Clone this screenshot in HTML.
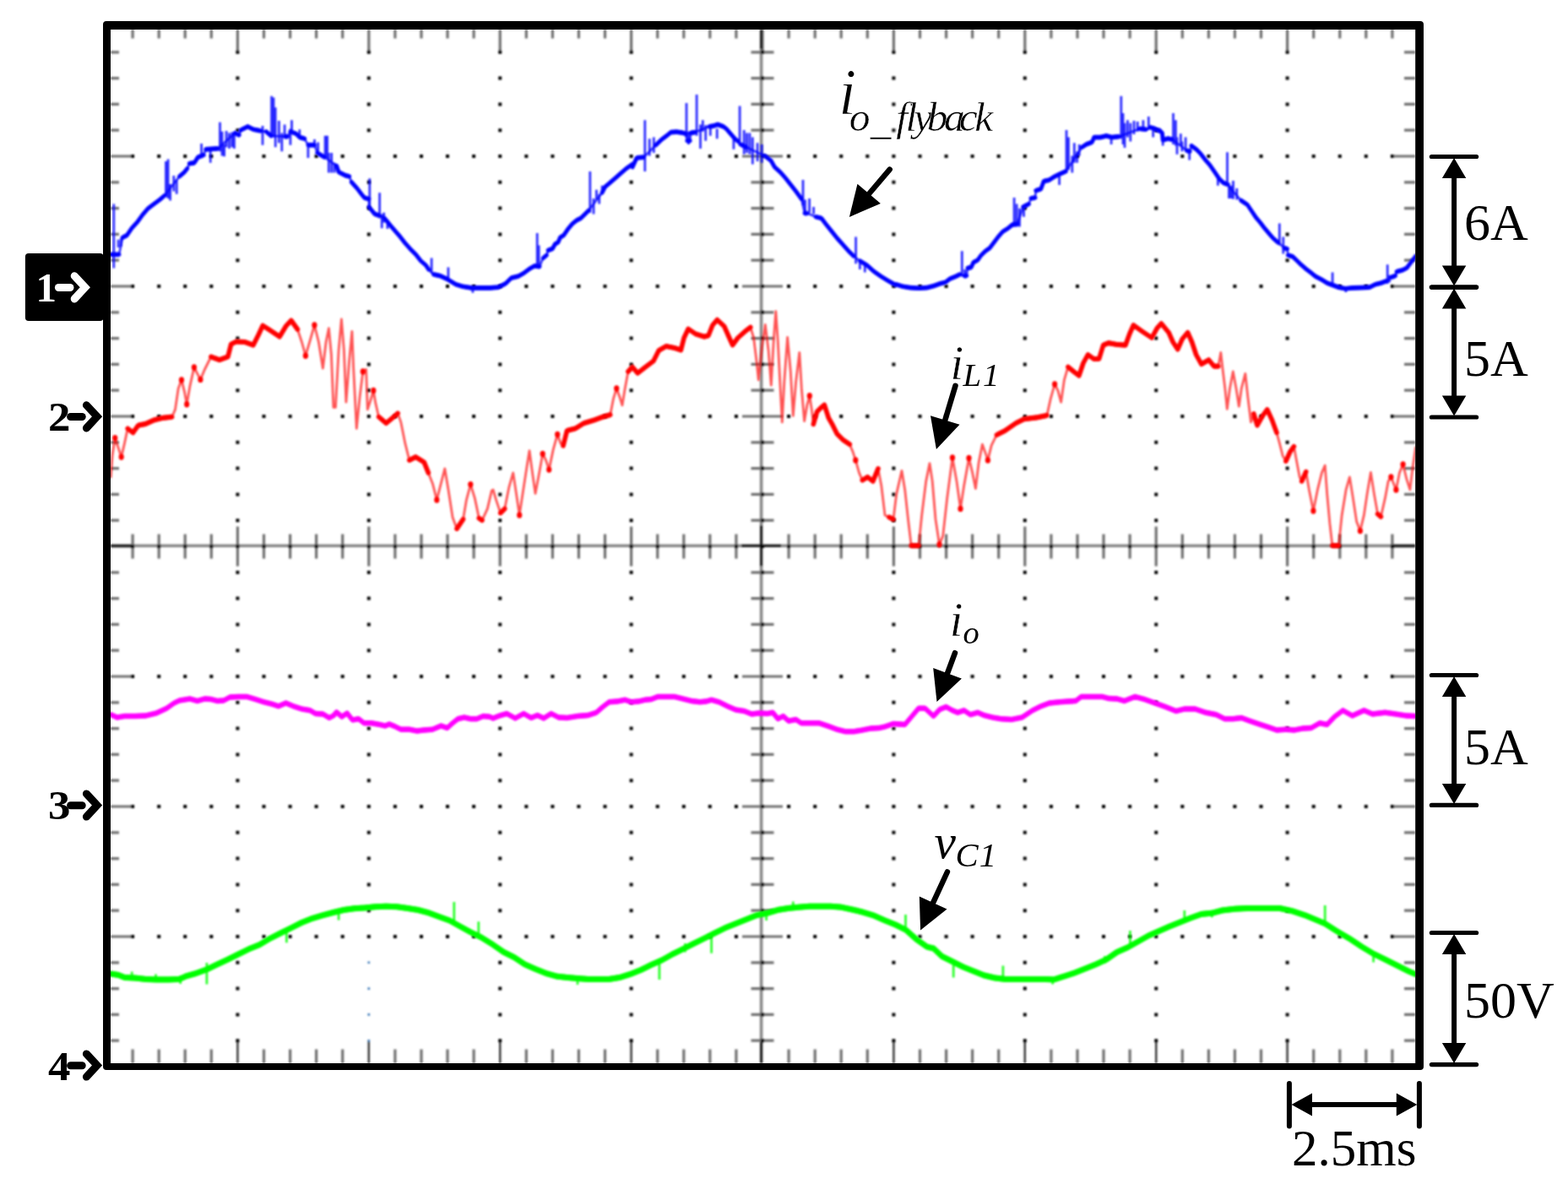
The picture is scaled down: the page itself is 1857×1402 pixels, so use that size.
<!DOCTYPE html>
<html lang="en"><head><meta charset="utf-8"><title>Oscilloscope waveforms</title>
<style>html,body{margin:0;padding:0;background:#fff;overflow:hidden}svg{display:block}text{font-family:"Liberation Serif",serif;fill:#000}.it{font-style:italic}.b{font-weight:bold}.th{stroke:#fff;stroke-width:0.5px;stroke-linejoin:round}.t0{stroke:none}.t7{stroke:#fff;stroke-width:0.45px}.m1{stroke-width:1.2px}</style></head><body>
<svg width="1857" height="1402" viewBox="0 0 1857 1402">
<defs><filter id="bl" filterUnits="userSpaceOnUse" x="0" y="0" width="1857" height="1402"><feGaussianBlur stdDeviation="1"/></filter><filter id="bw" filterUnits="userSpaceOnUse" x="0" y="0" width="1857" height="1402"><feGaussianBlur stdDeviation="1"/></filter><clipPath id="cp"><rect x="131" y="35" width="1545.2" height="1224"/></clipPath></defs>
<rect width="1857" height="1402" fill="#fff"/>
<g filter="url(#bl)" clip-path="url(#cp)"><path d="M131 646.2H1676.2M901.6 35V1259" stroke="#878787" stroke-width="3.6" fill="none"/><path d="M157.1 35v10.5M157.1 1259v-16.5M157.1 632.5V661.5M188.2 35v10.5M188.2 1259v-16.5M188.2 632.5V661.5M219.2 35v10.5M219.2 1259v-16.5M219.2 632.5V661.5M250.3 35v10.5M250.3 1259v-16.5M250.3 632.5V661.5M281.4 35v26M281.4 623.5V670.5M312.5 35v10.5M312.5 1259v-16.5M312.5 632.5V661.5M343.6 35v10.5M343.6 1259v-16.5M343.6 632.5V661.5M374.6 35v10.5M374.6 1259v-16.5M374.6 632.5V661.5M405.7 35v10.5M405.7 1259v-16.5M405.7 632.5V661.5M436.8 35v26M436.8 623.5V670.5M467.9 35v10.5M467.9 1259v-16.5M467.9 632.5V661.5M499 35v10.5M499 1259v-16.5M499 632.5V661.5M530 35v10.5M530 1259v-16.5M530 632.5V661.5M561.1 35v10.5M561.1 1259v-16.5M561.1 632.5V661.5M592.2 35v26M592.2 623.5V670.5M623.3 35v10.5M623.3 1259v-16.5M623.3 632.5V661.5M654.4 35v10.5M654.4 1259v-16.5M654.4 632.5V661.5M685.4 35v10.5M685.4 1259v-16.5M685.4 632.5V661.5M716.5 35v10.5M716.5 1259v-16.5M716.5 632.5V661.5M747.6 35v26M747.6 623.5V670.5M778.7 35v10.5M778.7 1259v-16.5M778.7 632.5V661.5M809.8 35v10.5M809.8 1259v-16.5M809.8 632.5V661.5M840.8 35v10.5M840.8 1259v-16.5M840.8 632.5V661.5M871.9 35v10.5M871.9 1259v-16.5M871.9 632.5V661.5M903 35v26M934.1 35v10.5M934.1 1259v-16.5M934.1 632.5V661.5M965.2 35v10.5M965.2 1259v-16.5M965.2 632.5V661.5M996.2 35v10.5M996.2 1259v-16.5M996.2 632.5V661.5M1027.3 35v10.5M1027.3 1259v-16.5M1027.3 632.5V661.5M1058.4 35v26M1058.4 623.5V670.5M1089.5 35v10.5M1089.5 1259v-16.5M1089.5 632.5V661.5M1120.6 35v10.5M1120.6 1259v-16.5M1120.6 632.5V661.5M1151.6 35v10.5M1151.6 1259v-16.5M1151.6 632.5V661.5M1182.7 35v10.5M1182.7 1259v-16.5M1182.7 632.5V661.5M1213.8 35v26M1213.8 623.5V670.5M1244.9 35v10.5M1244.9 1259v-16.5M1244.9 632.5V661.5M1276 35v10.5M1276 1259v-16.5M1276 632.5V661.5M1307 35v10.5M1307 1259v-16.5M1307 632.5V661.5M1338.1 35v10.5M1338.1 1259v-16.5M1338.1 632.5V661.5M1369.2 35v26M1369.2 623.5V670.5M1400.3 35v10.5M1400.3 1259v-16.5M1400.3 632.5V661.5M1431.4 35v10.5M1431.4 1259v-16.5M1431.4 632.5V661.5M1462.4 35v10.5M1462.4 1259v-16.5M1462.4 632.5V661.5M1493.5 35v10.5M1493.5 1259v-16.5M1493.5 632.5V661.5M1524.6 35v26M1524.6 623.5V670.5M1555.7 35v10.5M1555.7 1259v-16.5M1555.7 632.5V661.5M1586.8 35v10.5M1586.8 1259v-16.5M1586.8 632.5V661.5M1617.8 35v10.5M1617.8 1259v-16.5M1617.8 632.5V661.5M1648.9 35v10.5M1648.9 1259v-16.5M1648.9 632.5V661.5M131 61.8h10M1676.2 61.8h-13.2M889.5 61.8H916.5M131 92.6h10M1676.2 92.6h-13.2M889.5 92.6H916.5M131 123.4h10M1676.2 123.4h-13.2M889.5 123.4H916.5M131 154.2h10M1676.2 154.2h-13.2M889.5 154.2H916.5M131 185h25M1676.2 185h-27M879 185H927M131 215.8h10M1676.2 215.8h-13.2M889.5 215.8H916.5M131 246.6h10M1676.2 246.6h-13.2M889.5 246.6H916.5M131 277.4h10M1676.2 277.4h-13.2M889.5 277.4H916.5M131 308.2h10M1676.2 308.2h-13.2M889.5 308.2H916.5M131 339h25M1676.2 339h-27M879 339H927M131 369.8h10M1676.2 369.8h-13.2M889.5 369.8H916.5M131 400.6h10M1676.2 400.6h-13.2M889.5 400.6H916.5M131 431.4h10M1676.2 431.4h-13.2M889.5 431.4H916.5M131 462.2h10M1676.2 462.2h-13.2M889.5 462.2H916.5M131 493h25M1676.2 493h-27M879 493H927M131 523.8h10M1676.2 523.8h-13.2M889.5 523.8H916.5M131 554.6h10M1676.2 554.6h-13.2M889.5 554.6H916.5M131 585.4h10M1676.2 585.4h-13.2M889.5 585.4H916.5M131 616.2h10M1676.2 616.2h-13.2M889.5 616.2H916.5M131 647h25M1676.2 647h-27M131 677.8h10M1676.2 677.8h-13.2M889.5 677.8H916.5M131 708.6h10M1676.2 708.6h-13.2M889.5 708.6H916.5M131 739.4h10M1676.2 739.4h-13.2M889.5 739.4H916.5M131 770.2h10M1676.2 770.2h-13.2M889.5 770.2H916.5M131 801h25M1676.2 801h-27M879 801H927M131 831.8h10M1676.2 831.8h-13.2M889.5 831.8H916.5M131 862.6h10M1676.2 862.6h-13.2M889.5 862.6H916.5M131 893.4h10M1676.2 893.4h-13.2M889.5 893.4H916.5M131 924.2h10M1676.2 924.2h-13.2M889.5 924.2H916.5M131 955h25M1676.2 955h-27M879 955H927M131 985.8h10M1676.2 985.8h-13.2M889.5 985.8H916.5M131 1016.6h10M1676.2 1016.6h-13.2M889.5 1016.6H916.5M131 1047.4h10M1676.2 1047.4h-13.2M889.5 1047.4H916.5M131 1078.2h10M1676.2 1078.2h-13.2M889.5 1078.2H916.5M131 1109h25M1676.2 1109h-27M879 1109H927M131 1139.8h10M1676.2 1139.8h-13.2M889.5 1139.8H916.5M131 1170.6h10M1676.2 1170.6h-13.2M889.5 1170.6H916.5M131 1201.4h10M1676.2 1201.4h-13.2M889.5 1201.4H916.5M131 1232.2h10M1676.2 1232.2h-13.2M889.5 1232.2H916.5" stroke="#707070" stroke-width="3.2" fill="none"/><path d="M878.1 646.2H925.1M901.6 622.2V670.2M901.6 1234V1259M901.6 35V58M1649 646.2H1676.2M131 646.2H156" stroke="#111" stroke-width="3" fill="none"/><path d="M281.4 1259V1232.2M436.8 1259V1232.2M592.2 1259V1232.2M747.6 1259V1232.2M1058.4 1259V1232.2M1213.8 1259V1232.2M1369.2 1259V1232.2M1524.6 1259V1232.2" stroke="#333" stroke-width="2.4" fill="none"/><path d="M279.4 59.8h4.0v4.0h-4.0zM434.8 59.8h4.0v4.0h-4.0zM590.2 59.8h4.0v4.0h-4.0zM745.6 59.8h4.0v4.0h-4.0zM901 59.8h4.0v4.0h-4.0zM1056.4 59.8h4.0v4.0h-4.0zM1211.8 59.8h4.0v4.0h-4.0zM1367.2 59.8h4.0v4.0h-4.0zM1522.6 59.8h4.0v4.0h-4.0zM279.4 90.6h4.0v4.0h-4.0zM434.8 90.6h4.0v4.0h-4.0zM590.2 90.6h4.0v4.0h-4.0zM745.6 90.6h4.0v4.0h-4.0zM901 90.6h4.0v4.0h-4.0zM1056.4 90.6h4.0v4.0h-4.0zM1211.8 90.6h4.0v4.0h-4.0zM1367.2 90.6h4.0v4.0h-4.0zM1522.6 90.6h4.0v4.0h-4.0zM279.4 121.4h4.0v4.0h-4.0zM434.8 121.4h4.0v4.0h-4.0zM590.2 121.4h4.0v4.0h-4.0zM745.6 121.4h4.0v4.0h-4.0zM901 121.4h4.0v4.0h-4.0zM1056.4 121.4h4.0v4.0h-4.0zM1211.8 121.4h4.0v4.0h-4.0zM1367.2 121.4h4.0v4.0h-4.0zM1522.6 121.4h4.0v4.0h-4.0zM279.4 152.2h4.0v4.0h-4.0zM434.8 152.2h4.0v4.0h-4.0zM590.2 152.2h4.0v4.0h-4.0zM745.6 152.2h4.0v4.0h-4.0zM901 152.2h4.0v4.0h-4.0zM1056.4 152.2h4.0v4.0h-4.0zM1211.8 152.2h4.0v4.0h-4.0zM1367.2 152.2h4.0v4.0h-4.0zM1522.6 152.2h4.0v4.0h-4.0zM155.1 183h4.0v4.0h-4.0zM186.2 183h4.0v4.0h-4.0zM217.2 183h4.0v4.0h-4.0zM248.3 183h4.0v4.0h-4.0zM279.4 183h4.0v4.0h-4.0zM310.5 183h4.0v4.0h-4.0zM341.6 183h4.0v4.0h-4.0zM372.6 183h4.0v4.0h-4.0zM403.7 183h4.0v4.0h-4.0zM434.8 183h4.0v4.0h-4.0zM465.9 183h4.0v4.0h-4.0zM497 183h4.0v4.0h-4.0zM528 183h4.0v4.0h-4.0zM559.1 183h4.0v4.0h-4.0zM590.2 183h4.0v4.0h-4.0zM621.3 183h4.0v4.0h-4.0zM652.4 183h4.0v4.0h-4.0zM683.4 183h4.0v4.0h-4.0zM714.5 183h4.0v4.0h-4.0zM745.6 183h4.0v4.0h-4.0zM776.7 183h4.0v4.0h-4.0zM807.8 183h4.0v4.0h-4.0zM838.8 183h4.0v4.0h-4.0zM869.9 183h4.0v4.0h-4.0zM901 183h4.0v4.0h-4.0zM932.1 183h4.0v4.0h-4.0zM963.2 183h4.0v4.0h-4.0zM994.2 183h4.0v4.0h-4.0zM1025.3 183h4.0v4.0h-4.0zM1056.4 183h4.0v4.0h-4.0zM1087.5 183h4.0v4.0h-4.0zM1118.6 183h4.0v4.0h-4.0zM1149.6 183h4.0v4.0h-4.0zM1180.7 183h4.0v4.0h-4.0zM1211.8 183h4.0v4.0h-4.0zM1242.9 183h4.0v4.0h-4.0zM1274 183h4.0v4.0h-4.0zM1305 183h4.0v4.0h-4.0zM1336.1 183h4.0v4.0h-4.0zM1367.2 183h4.0v4.0h-4.0zM1398.3 183h4.0v4.0h-4.0zM1429.4 183h4.0v4.0h-4.0zM1460.4 183h4.0v4.0h-4.0zM1491.5 183h4.0v4.0h-4.0zM1522.6 183h4.0v4.0h-4.0zM1553.7 183h4.0v4.0h-4.0zM1584.8 183h4.0v4.0h-4.0zM1615.8 183h4.0v4.0h-4.0zM1646.9 183h4.0v4.0h-4.0zM279.4 213.8h4.0v4.0h-4.0zM434.8 213.8h4.0v4.0h-4.0zM590.2 213.8h4.0v4.0h-4.0zM745.6 213.8h4.0v4.0h-4.0zM901 213.8h4.0v4.0h-4.0zM1056.4 213.8h4.0v4.0h-4.0zM1211.8 213.8h4.0v4.0h-4.0zM1367.2 213.8h4.0v4.0h-4.0zM1522.6 213.8h4.0v4.0h-4.0zM279.4 244.6h4.0v4.0h-4.0zM434.8 244.6h4.0v4.0h-4.0zM590.2 244.6h4.0v4.0h-4.0zM745.6 244.6h4.0v4.0h-4.0zM901 244.6h4.0v4.0h-4.0zM1056.4 244.6h4.0v4.0h-4.0zM1211.8 244.6h4.0v4.0h-4.0zM1367.2 244.6h4.0v4.0h-4.0zM1522.6 244.6h4.0v4.0h-4.0zM279.4 275.4h4.0v4.0h-4.0zM434.8 275.4h4.0v4.0h-4.0zM590.2 275.4h4.0v4.0h-4.0zM745.6 275.4h4.0v4.0h-4.0zM901 275.4h4.0v4.0h-4.0zM1056.4 275.4h4.0v4.0h-4.0zM1211.8 275.4h4.0v4.0h-4.0zM1367.2 275.4h4.0v4.0h-4.0zM1522.6 275.4h4.0v4.0h-4.0zM279.4 306.2h4.0v4.0h-4.0zM434.8 306.2h4.0v4.0h-4.0zM590.2 306.2h4.0v4.0h-4.0zM745.6 306.2h4.0v4.0h-4.0zM901 306.2h4.0v4.0h-4.0zM1056.4 306.2h4.0v4.0h-4.0zM1211.8 306.2h4.0v4.0h-4.0zM1367.2 306.2h4.0v4.0h-4.0zM1522.6 306.2h4.0v4.0h-4.0zM155.1 337h4.0v4.0h-4.0zM186.2 337h4.0v4.0h-4.0zM217.2 337h4.0v4.0h-4.0zM248.3 337h4.0v4.0h-4.0zM279.4 337h4.0v4.0h-4.0zM310.5 337h4.0v4.0h-4.0zM341.6 337h4.0v4.0h-4.0zM372.6 337h4.0v4.0h-4.0zM403.7 337h4.0v4.0h-4.0zM434.8 337h4.0v4.0h-4.0zM465.9 337h4.0v4.0h-4.0zM497 337h4.0v4.0h-4.0zM528 337h4.0v4.0h-4.0zM559.1 337h4.0v4.0h-4.0zM590.2 337h4.0v4.0h-4.0zM621.3 337h4.0v4.0h-4.0zM652.4 337h4.0v4.0h-4.0zM683.4 337h4.0v4.0h-4.0zM714.5 337h4.0v4.0h-4.0zM745.6 337h4.0v4.0h-4.0zM776.7 337h4.0v4.0h-4.0zM807.8 337h4.0v4.0h-4.0zM838.8 337h4.0v4.0h-4.0zM869.9 337h4.0v4.0h-4.0zM901 337h4.0v4.0h-4.0zM932.1 337h4.0v4.0h-4.0zM963.2 337h4.0v4.0h-4.0zM994.2 337h4.0v4.0h-4.0zM1025.3 337h4.0v4.0h-4.0zM1056.4 337h4.0v4.0h-4.0zM1087.5 337h4.0v4.0h-4.0zM1118.6 337h4.0v4.0h-4.0zM1149.6 337h4.0v4.0h-4.0zM1180.7 337h4.0v4.0h-4.0zM1211.8 337h4.0v4.0h-4.0zM1242.9 337h4.0v4.0h-4.0zM1274 337h4.0v4.0h-4.0zM1305 337h4.0v4.0h-4.0zM1336.1 337h4.0v4.0h-4.0zM1367.2 337h4.0v4.0h-4.0zM1398.3 337h4.0v4.0h-4.0zM1429.4 337h4.0v4.0h-4.0zM1460.4 337h4.0v4.0h-4.0zM1491.5 337h4.0v4.0h-4.0zM1522.6 337h4.0v4.0h-4.0zM1553.7 337h4.0v4.0h-4.0zM1584.8 337h4.0v4.0h-4.0zM1615.8 337h4.0v4.0h-4.0zM1646.9 337h4.0v4.0h-4.0zM279.4 367.8h4.0v4.0h-4.0zM434.8 367.8h4.0v4.0h-4.0zM590.2 367.8h4.0v4.0h-4.0zM745.6 367.8h4.0v4.0h-4.0zM901 367.8h4.0v4.0h-4.0zM1056.4 367.8h4.0v4.0h-4.0zM1211.8 367.8h4.0v4.0h-4.0zM1367.2 367.8h4.0v4.0h-4.0zM1522.6 367.8h4.0v4.0h-4.0zM279.4 398.6h4.0v4.0h-4.0zM434.8 398.6h4.0v4.0h-4.0zM590.2 398.6h4.0v4.0h-4.0zM745.6 398.6h4.0v4.0h-4.0zM901 398.6h4.0v4.0h-4.0zM1056.4 398.6h4.0v4.0h-4.0zM1211.8 398.6h4.0v4.0h-4.0zM1367.2 398.6h4.0v4.0h-4.0zM1522.6 398.6h4.0v4.0h-4.0zM279.4 429.4h4.0v4.0h-4.0zM434.8 429.4h4.0v4.0h-4.0zM590.2 429.4h4.0v4.0h-4.0zM745.6 429.4h4.0v4.0h-4.0zM901 429.4h4.0v4.0h-4.0zM1056.4 429.4h4.0v4.0h-4.0zM1211.8 429.4h4.0v4.0h-4.0zM1367.2 429.4h4.0v4.0h-4.0zM1522.6 429.4h4.0v4.0h-4.0zM279.4 460.2h4.0v4.0h-4.0zM434.8 460.2h4.0v4.0h-4.0zM590.2 460.2h4.0v4.0h-4.0zM745.6 460.2h4.0v4.0h-4.0zM901 460.2h4.0v4.0h-4.0zM1056.4 460.2h4.0v4.0h-4.0zM1211.8 460.2h4.0v4.0h-4.0zM1367.2 460.2h4.0v4.0h-4.0zM1522.6 460.2h4.0v4.0h-4.0zM155.1 491h4.0v4.0h-4.0zM186.2 491h4.0v4.0h-4.0zM217.2 491h4.0v4.0h-4.0zM248.3 491h4.0v4.0h-4.0zM279.4 491h4.0v4.0h-4.0zM310.5 491h4.0v4.0h-4.0zM341.6 491h4.0v4.0h-4.0zM372.6 491h4.0v4.0h-4.0zM403.7 491h4.0v4.0h-4.0zM434.8 491h4.0v4.0h-4.0zM465.9 491h4.0v4.0h-4.0zM497 491h4.0v4.0h-4.0zM528 491h4.0v4.0h-4.0zM559.1 491h4.0v4.0h-4.0zM590.2 491h4.0v4.0h-4.0zM621.3 491h4.0v4.0h-4.0zM652.4 491h4.0v4.0h-4.0zM683.4 491h4.0v4.0h-4.0zM714.5 491h4.0v4.0h-4.0zM745.6 491h4.0v4.0h-4.0zM776.7 491h4.0v4.0h-4.0zM807.8 491h4.0v4.0h-4.0zM838.8 491h4.0v4.0h-4.0zM869.9 491h4.0v4.0h-4.0zM901 491h4.0v4.0h-4.0zM932.1 491h4.0v4.0h-4.0zM963.2 491h4.0v4.0h-4.0zM994.2 491h4.0v4.0h-4.0zM1025.3 491h4.0v4.0h-4.0zM1056.4 491h4.0v4.0h-4.0zM1087.5 491h4.0v4.0h-4.0zM1118.6 491h4.0v4.0h-4.0zM1149.6 491h4.0v4.0h-4.0zM1180.7 491h4.0v4.0h-4.0zM1211.8 491h4.0v4.0h-4.0zM1242.9 491h4.0v4.0h-4.0zM1274 491h4.0v4.0h-4.0zM1305 491h4.0v4.0h-4.0zM1336.1 491h4.0v4.0h-4.0zM1367.2 491h4.0v4.0h-4.0zM1398.3 491h4.0v4.0h-4.0zM1429.4 491h4.0v4.0h-4.0zM1460.4 491h4.0v4.0h-4.0zM1491.5 491h4.0v4.0h-4.0zM1522.6 491h4.0v4.0h-4.0zM1553.7 491h4.0v4.0h-4.0zM1584.8 491h4.0v4.0h-4.0zM1615.8 491h4.0v4.0h-4.0zM1646.9 491h4.0v4.0h-4.0zM279.4 521.8h4.0v4.0h-4.0zM434.8 521.8h4.0v4.0h-4.0zM590.2 521.8h4.0v4.0h-4.0zM745.6 521.8h4.0v4.0h-4.0zM901 521.8h4.0v4.0h-4.0zM1056.4 521.8h4.0v4.0h-4.0zM1211.8 521.8h4.0v4.0h-4.0zM1367.2 521.8h4.0v4.0h-4.0zM1522.6 521.8h4.0v4.0h-4.0zM279.4 552.6h4.0v4.0h-4.0zM434.8 552.6h4.0v4.0h-4.0zM590.2 552.6h4.0v4.0h-4.0zM745.6 552.6h4.0v4.0h-4.0zM901 552.6h4.0v4.0h-4.0zM1056.4 552.6h4.0v4.0h-4.0zM1211.8 552.6h4.0v4.0h-4.0zM1367.2 552.6h4.0v4.0h-4.0zM1522.6 552.6h4.0v4.0h-4.0zM279.4 583.4h4.0v4.0h-4.0zM434.8 583.4h4.0v4.0h-4.0zM590.2 583.4h4.0v4.0h-4.0zM745.6 583.4h4.0v4.0h-4.0zM901 583.4h4.0v4.0h-4.0zM1056.4 583.4h4.0v4.0h-4.0zM1211.8 583.4h4.0v4.0h-4.0zM1367.2 583.4h4.0v4.0h-4.0zM1522.6 583.4h4.0v4.0h-4.0zM279.4 614.2h4.0v4.0h-4.0zM434.8 614.2h4.0v4.0h-4.0zM590.2 614.2h4.0v4.0h-4.0zM745.6 614.2h4.0v4.0h-4.0zM901 614.2h4.0v4.0h-4.0zM1056.4 614.2h4.0v4.0h-4.0zM1211.8 614.2h4.0v4.0h-4.0zM1367.2 614.2h4.0v4.0h-4.0zM1522.6 614.2h4.0v4.0h-4.0zM155.1 645h4.0v4.0h-4.0zM186.2 645h4.0v4.0h-4.0zM217.2 645h4.0v4.0h-4.0zM248.3 645h4.0v4.0h-4.0zM279.4 645h4.0v4.0h-4.0zM310.5 645h4.0v4.0h-4.0zM341.6 645h4.0v4.0h-4.0zM372.6 645h4.0v4.0h-4.0zM403.7 645h4.0v4.0h-4.0zM434.8 645h4.0v4.0h-4.0zM465.9 645h4.0v4.0h-4.0zM497 645h4.0v4.0h-4.0zM528 645h4.0v4.0h-4.0zM559.1 645h4.0v4.0h-4.0zM590.2 645h4.0v4.0h-4.0zM621.3 645h4.0v4.0h-4.0zM652.4 645h4.0v4.0h-4.0zM683.4 645h4.0v4.0h-4.0zM714.5 645h4.0v4.0h-4.0zM745.6 645h4.0v4.0h-4.0zM776.7 645h4.0v4.0h-4.0zM807.8 645h4.0v4.0h-4.0zM838.8 645h4.0v4.0h-4.0zM869.9 645h4.0v4.0h-4.0zM901 645h4.0v4.0h-4.0zM932.1 645h4.0v4.0h-4.0zM963.2 645h4.0v4.0h-4.0zM994.2 645h4.0v4.0h-4.0zM1025.3 645h4.0v4.0h-4.0zM1056.4 645h4.0v4.0h-4.0zM1087.5 645h4.0v4.0h-4.0zM1118.6 645h4.0v4.0h-4.0zM1149.6 645h4.0v4.0h-4.0zM1180.7 645h4.0v4.0h-4.0zM1211.8 645h4.0v4.0h-4.0zM1242.9 645h4.0v4.0h-4.0zM1274 645h4.0v4.0h-4.0zM1305 645h4.0v4.0h-4.0zM1336.1 645h4.0v4.0h-4.0zM1367.2 645h4.0v4.0h-4.0zM1398.3 645h4.0v4.0h-4.0zM1429.4 645h4.0v4.0h-4.0zM1460.4 645h4.0v4.0h-4.0zM1491.5 645h4.0v4.0h-4.0zM1522.6 645h4.0v4.0h-4.0zM1553.7 645h4.0v4.0h-4.0zM1584.8 645h4.0v4.0h-4.0zM1615.8 645h4.0v4.0h-4.0zM1646.9 645h4.0v4.0h-4.0zM279.4 675.8h4.0v4.0h-4.0zM434.8 675.8h4.0v4.0h-4.0zM590.2 675.8h4.0v4.0h-4.0zM745.6 675.8h4.0v4.0h-4.0zM901 675.8h4.0v4.0h-4.0zM1056.4 675.8h4.0v4.0h-4.0zM1211.8 675.8h4.0v4.0h-4.0zM1367.2 675.8h4.0v4.0h-4.0zM1522.6 675.8h4.0v4.0h-4.0zM279.4 706.6h4.0v4.0h-4.0zM434.8 706.6h4.0v4.0h-4.0zM590.2 706.6h4.0v4.0h-4.0zM745.6 706.6h4.0v4.0h-4.0zM901 706.6h4.0v4.0h-4.0zM1056.4 706.6h4.0v4.0h-4.0zM1211.8 706.6h4.0v4.0h-4.0zM1367.2 706.6h4.0v4.0h-4.0zM1522.6 706.6h4.0v4.0h-4.0zM279.4 737.4h4.0v4.0h-4.0zM434.8 737.4h4.0v4.0h-4.0zM590.2 737.4h4.0v4.0h-4.0zM745.6 737.4h4.0v4.0h-4.0zM901 737.4h4.0v4.0h-4.0zM1056.4 737.4h4.0v4.0h-4.0zM1211.8 737.4h4.0v4.0h-4.0zM1367.2 737.4h4.0v4.0h-4.0zM1522.6 737.4h4.0v4.0h-4.0zM279.4 768.2h4.0v4.0h-4.0zM434.8 768.2h4.0v4.0h-4.0zM590.2 768.2h4.0v4.0h-4.0zM745.6 768.2h4.0v4.0h-4.0zM901 768.2h4.0v4.0h-4.0zM1056.4 768.2h4.0v4.0h-4.0zM1211.8 768.2h4.0v4.0h-4.0zM1367.2 768.2h4.0v4.0h-4.0zM1522.6 768.2h4.0v4.0h-4.0zM155.1 799h4.0v4.0h-4.0zM186.2 799h4.0v4.0h-4.0zM217.2 799h4.0v4.0h-4.0zM248.3 799h4.0v4.0h-4.0zM279.4 799h4.0v4.0h-4.0zM310.5 799h4.0v4.0h-4.0zM341.6 799h4.0v4.0h-4.0zM372.6 799h4.0v4.0h-4.0zM403.7 799h4.0v4.0h-4.0zM434.8 799h4.0v4.0h-4.0zM465.9 799h4.0v4.0h-4.0zM497 799h4.0v4.0h-4.0zM528 799h4.0v4.0h-4.0zM559.1 799h4.0v4.0h-4.0zM590.2 799h4.0v4.0h-4.0zM621.3 799h4.0v4.0h-4.0zM652.4 799h4.0v4.0h-4.0zM683.4 799h4.0v4.0h-4.0zM714.5 799h4.0v4.0h-4.0zM745.6 799h4.0v4.0h-4.0zM776.7 799h4.0v4.0h-4.0zM807.8 799h4.0v4.0h-4.0zM838.8 799h4.0v4.0h-4.0zM869.9 799h4.0v4.0h-4.0zM901 799h4.0v4.0h-4.0zM932.1 799h4.0v4.0h-4.0zM963.2 799h4.0v4.0h-4.0zM994.2 799h4.0v4.0h-4.0zM1025.3 799h4.0v4.0h-4.0zM1056.4 799h4.0v4.0h-4.0zM1087.5 799h4.0v4.0h-4.0zM1118.6 799h4.0v4.0h-4.0zM1149.6 799h4.0v4.0h-4.0zM1180.7 799h4.0v4.0h-4.0zM1211.8 799h4.0v4.0h-4.0zM1242.9 799h4.0v4.0h-4.0zM1274 799h4.0v4.0h-4.0zM1305 799h4.0v4.0h-4.0zM1336.1 799h4.0v4.0h-4.0zM1367.2 799h4.0v4.0h-4.0zM1398.3 799h4.0v4.0h-4.0zM1429.4 799h4.0v4.0h-4.0zM1460.4 799h4.0v4.0h-4.0zM1491.5 799h4.0v4.0h-4.0zM1522.6 799h4.0v4.0h-4.0zM1553.7 799h4.0v4.0h-4.0zM1584.8 799h4.0v4.0h-4.0zM1615.8 799h4.0v4.0h-4.0zM1646.9 799h4.0v4.0h-4.0zM279.4 829.8h4.0v4.0h-4.0zM434.8 829.8h4.0v4.0h-4.0zM590.2 829.8h4.0v4.0h-4.0zM745.6 829.8h4.0v4.0h-4.0zM901 829.8h4.0v4.0h-4.0zM1056.4 829.8h4.0v4.0h-4.0zM1211.8 829.8h4.0v4.0h-4.0zM1367.2 829.8h4.0v4.0h-4.0zM1522.6 829.8h4.0v4.0h-4.0zM279.4 860.6h4.0v4.0h-4.0zM434.8 860.6h4.0v4.0h-4.0zM590.2 860.6h4.0v4.0h-4.0zM745.6 860.6h4.0v4.0h-4.0zM901 860.6h4.0v4.0h-4.0zM1056.4 860.6h4.0v4.0h-4.0zM1211.8 860.6h4.0v4.0h-4.0zM1367.2 860.6h4.0v4.0h-4.0zM1522.6 860.6h4.0v4.0h-4.0zM279.4 891.4h4.0v4.0h-4.0zM434.8 891.4h4.0v4.0h-4.0zM590.2 891.4h4.0v4.0h-4.0zM745.6 891.4h4.0v4.0h-4.0zM901 891.4h4.0v4.0h-4.0zM1056.4 891.4h4.0v4.0h-4.0zM1211.8 891.4h4.0v4.0h-4.0zM1367.2 891.4h4.0v4.0h-4.0zM1522.6 891.4h4.0v4.0h-4.0zM279.4 922.2h4.0v4.0h-4.0zM434.8 922.2h4.0v4.0h-4.0zM590.2 922.2h4.0v4.0h-4.0zM745.6 922.2h4.0v4.0h-4.0zM901 922.2h4.0v4.0h-4.0zM1056.4 922.2h4.0v4.0h-4.0zM1211.8 922.2h4.0v4.0h-4.0zM1367.2 922.2h4.0v4.0h-4.0zM1522.6 922.2h4.0v4.0h-4.0zM155.1 953h4.0v4.0h-4.0zM186.2 953h4.0v4.0h-4.0zM217.2 953h4.0v4.0h-4.0zM248.3 953h4.0v4.0h-4.0zM279.4 953h4.0v4.0h-4.0zM310.5 953h4.0v4.0h-4.0zM341.6 953h4.0v4.0h-4.0zM372.6 953h4.0v4.0h-4.0zM403.7 953h4.0v4.0h-4.0zM434.8 953h4.0v4.0h-4.0zM465.9 953h4.0v4.0h-4.0zM497 953h4.0v4.0h-4.0zM528 953h4.0v4.0h-4.0zM559.1 953h4.0v4.0h-4.0zM590.2 953h4.0v4.0h-4.0zM621.3 953h4.0v4.0h-4.0zM652.4 953h4.0v4.0h-4.0zM683.4 953h4.0v4.0h-4.0zM714.5 953h4.0v4.0h-4.0zM745.6 953h4.0v4.0h-4.0zM776.7 953h4.0v4.0h-4.0zM807.8 953h4.0v4.0h-4.0zM838.8 953h4.0v4.0h-4.0zM869.9 953h4.0v4.0h-4.0zM901 953h4.0v4.0h-4.0zM932.1 953h4.0v4.0h-4.0zM963.2 953h4.0v4.0h-4.0zM994.2 953h4.0v4.0h-4.0zM1025.3 953h4.0v4.0h-4.0zM1056.4 953h4.0v4.0h-4.0zM1087.5 953h4.0v4.0h-4.0zM1118.6 953h4.0v4.0h-4.0zM1149.6 953h4.0v4.0h-4.0zM1180.7 953h4.0v4.0h-4.0zM1211.8 953h4.0v4.0h-4.0zM1242.9 953h4.0v4.0h-4.0zM1274 953h4.0v4.0h-4.0zM1305 953h4.0v4.0h-4.0zM1336.1 953h4.0v4.0h-4.0zM1367.2 953h4.0v4.0h-4.0zM1398.3 953h4.0v4.0h-4.0zM1429.4 953h4.0v4.0h-4.0zM1460.4 953h4.0v4.0h-4.0zM1491.5 953h4.0v4.0h-4.0zM1522.6 953h4.0v4.0h-4.0zM1553.7 953h4.0v4.0h-4.0zM1584.8 953h4.0v4.0h-4.0zM1615.8 953h4.0v4.0h-4.0zM1646.9 953h4.0v4.0h-4.0zM279.4 983.8h4.0v4.0h-4.0zM434.8 983.8h4.0v4.0h-4.0zM590.2 983.8h4.0v4.0h-4.0zM745.6 983.8h4.0v4.0h-4.0zM901 983.8h4.0v4.0h-4.0zM1056.4 983.8h4.0v4.0h-4.0zM1211.8 983.8h4.0v4.0h-4.0zM1367.2 983.8h4.0v4.0h-4.0zM1522.6 983.8h4.0v4.0h-4.0zM279.4 1014.6h4.0v4.0h-4.0zM434.8 1014.6h4.0v4.0h-4.0zM590.2 1014.6h4.0v4.0h-4.0zM745.6 1014.6h4.0v4.0h-4.0zM901 1014.6h4.0v4.0h-4.0zM1056.4 1014.6h4.0v4.0h-4.0zM1211.8 1014.6h4.0v4.0h-4.0zM1367.2 1014.6h4.0v4.0h-4.0zM1522.6 1014.6h4.0v4.0h-4.0zM279.4 1045.4h4.0v4.0h-4.0zM434.8 1045.4h4.0v4.0h-4.0zM590.2 1045.4h4.0v4.0h-4.0zM745.6 1045.4h4.0v4.0h-4.0zM901 1045.4h4.0v4.0h-4.0zM1056.4 1045.4h4.0v4.0h-4.0zM1211.8 1045.4h4.0v4.0h-4.0zM1367.2 1045.4h4.0v4.0h-4.0zM1522.6 1045.4h4.0v4.0h-4.0zM279.4 1076.2h4.0v4.0h-4.0zM434.8 1076.2h4.0v4.0h-4.0zM590.2 1076.2h4.0v4.0h-4.0zM745.6 1076.2h4.0v4.0h-4.0zM901 1076.2h4.0v4.0h-4.0zM1056.4 1076.2h4.0v4.0h-4.0zM1211.8 1076.2h4.0v4.0h-4.0zM1367.2 1076.2h4.0v4.0h-4.0zM1522.6 1076.2h4.0v4.0h-4.0zM155.1 1107h4.0v4.0h-4.0zM186.2 1107h4.0v4.0h-4.0zM217.2 1107h4.0v4.0h-4.0zM248.3 1107h4.0v4.0h-4.0zM279.4 1107h4.0v4.0h-4.0zM310.5 1107h4.0v4.0h-4.0zM341.6 1107h4.0v4.0h-4.0zM372.6 1107h4.0v4.0h-4.0zM403.7 1107h4.0v4.0h-4.0zM434.8 1107h4.0v4.0h-4.0zM465.9 1107h4.0v4.0h-4.0zM497 1107h4.0v4.0h-4.0zM528 1107h4.0v4.0h-4.0zM559.1 1107h4.0v4.0h-4.0zM590.2 1107h4.0v4.0h-4.0zM621.3 1107h4.0v4.0h-4.0zM652.4 1107h4.0v4.0h-4.0zM683.4 1107h4.0v4.0h-4.0zM714.5 1107h4.0v4.0h-4.0zM745.6 1107h4.0v4.0h-4.0zM776.7 1107h4.0v4.0h-4.0zM807.8 1107h4.0v4.0h-4.0zM838.8 1107h4.0v4.0h-4.0zM869.9 1107h4.0v4.0h-4.0zM901 1107h4.0v4.0h-4.0zM932.1 1107h4.0v4.0h-4.0zM963.2 1107h4.0v4.0h-4.0zM994.2 1107h4.0v4.0h-4.0zM1025.3 1107h4.0v4.0h-4.0zM1056.4 1107h4.0v4.0h-4.0zM1087.5 1107h4.0v4.0h-4.0zM1118.6 1107h4.0v4.0h-4.0zM1149.6 1107h4.0v4.0h-4.0zM1180.7 1107h4.0v4.0h-4.0zM1211.8 1107h4.0v4.0h-4.0zM1242.9 1107h4.0v4.0h-4.0zM1274 1107h4.0v4.0h-4.0zM1305 1107h4.0v4.0h-4.0zM1336.1 1107h4.0v4.0h-4.0zM1367.2 1107h4.0v4.0h-4.0zM1398.3 1107h4.0v4.0h-4.0zM1429.4 1107h4.0v4.0h-4.0zM1460.4 1107h4.0v4.0h-4.0zM1491.5 1107h4.0v4.0h-4.0zM1522.6 1107h4.0v4.0h-4.0zM1553.7 1107h4.0v4.0h-4.0zM1584.8 1107h4.0v4.0h-4.0zM1615.8 1107h4.0v4.0h-4.0zM1646.9 1107h4.0v4.0h-4.0zM279.4 1137.8h4.0v4.0h-4.0zM590.2 1137.8h4.0v4.0h-4.0zM745.6 1137.8h4.0v4.0h-4.0zM901 1137.8h4.0v4.0h-4.0zM1056.4 1137.8h4.0v4.0h-4.0zM1211.8 1137.8h4.0v4.0h-4.0zM1367.2 1137.8h4.0v4.0h-4.0zM1522.6 1137.8h4.0v4.0h-4.0zM279.4 1168.6h4.0v4.0h-4.0zM590.2 1168.6h4.0v4.0h-4.0zM745.6 1168.6h4.0v4.0h-4.0zM901 1168.6h4.0v4.0h-4.0zM1056.4 1168.6h4.0v4.0h-4.0zM1211.8 1168.6h4.0v4.0h-4.0zM1367.2 1168.6h4.0v4.0h-4.0zM1522.6 1168.6h4.0v4.0h-4.0zM279.4 1199.4h4.0v4.0h-4.0zM590.2 1199.4h4.0v4.0h-4.0zM745.6 1199.4h4.0v4.0h-4.0zM901 1199.4h4.0v4.0h-4.0zM1056.4 1199.4h4.0v4.0h-4.0zM1211.8 1199.4h4.0v4.0h-4.0zM1367.2 1199.4h4.0v4.0h-4.0zM1522.6 1199.4h4.0v4.0h-4.0zM279.4 1230.2h4.0v4.0h-4.0zM590.2 1230.2h4.0v4.0h-4.0zM745.6 1230.2h4.0v4.0h-4.0zM901 1230.2h4.0v4.0h-4.0zM1056.4 1230.2h4.0v4.0h-4.0zM1211.8 1230.2h4.0v4.0h-4.0zM1367.2 1230.2h4.0v4.0h-4.0zM1522.6 1230.2h4.0v4.0h-4.0z" fill="#000"/><path d="M435.5 1138.5h2.6v2.6h-2.6zM435.5 1169.3h2.6v2.6h-2.6zM435.5 1200.1h2.6v2.6h-2.6zM435.5 1230.9h2.6v2.6h-2.6z" fill="#3b78b8"/></g>
<g filter="url(#bw)" clip-path="url(#cp)"><path d="M134.8 241.6V317.4M140.2 283.7V293M143.5 282V292.1M196.5 191.1V233.2M199.1 188.6V234.9M201.6 218.1V237.4M205.8 208V226.5M209.2 213V229.8M238.6 170.1V184.4M249.2 177.7V192.8M260.5 144.8V179.3M263 155.8V184.4M265.6 170.9V185.2M268.1 154.9V174.3M271.5 157.5V176M274.8 156.6V174.3M277.4 156.6V176M311 149V171.8M321.6 113.7V162.5M324 115.4V162.5M326.2 127.2V174.3M330.4 143.1V169.2M333.8 157.5V179.3M337.1 147.4V164.2M343.9 152.4V171.8M345.5 142.3V159.1M354.8 153.2V162.5M364.9 169.2V186.9M372.5 165V172.6M376.7 168.4V179.3M385.1 160.8V186.1M387.6 160.8V186.9M389.3 181V204.6M392.7 181V204.6M396 192.8V204.6M437.8 211.3V246.7M449.6 228.2V258.5M452.2 253.4V270.2M454.7 251.7V263.5M458.9 260.1V271.1M511.1 305.6V324.1M530.9 316.5V332.5M559.9 341V346.8M636.2 276.1V315.7M638.2 290.5V315.7M698.8 202.9V251.7M703 234.9V253.4M706.4 224.8V236.6M709.7 229.8V241.6M713.1 219.7V229.8M763.8 142.3V202.9M769.2 164.2V184.4M774.3 162.5V181M813 122.1V162.5M815.5 155.8V170.9M825.1 112V160.8M829.5 147.4V176M832.3 142.3V155.8M835.7 148.2V166.7M841.3 149V160.8M849.2 152.4V164.2M868.9 160.8V176.8M876.1 125.5V167.6M881.2 154.1V182.7M884.5 157.5V181M887.9 157.5V182.7M891.3 162.5V194.5M897.1 169.2V191.1M902.2 170.9V192.8M951 213V243.3M953.5 236.6V255.1M958.6 234.9V251.7M963.6 245V253.4M1013.6 280.4V312.3M1018.4 307.3V319.1M1024.3 312.3V322.4M1139.3 297.2V327.5M1142.6 319.1V329.2M1201.1 234.1V266.9M1204.1 241.6V268.6M1207.5 246.7V268.6M1212.5 246.7V256.8M1254.6 206.3V218.9M1263 154.1V202.9M1265.5 162.5V201.2M1269.8 184.4V204.6M1272.3 169.2V192.8M1275.6 179.3V192.8M1278.2 170.9V184.4M1316.1 162.5V170.9M1327.8 113.7V164.2M1330 133.9V170.9M1332 145.7V175.1M1335.4 142.3V162.5M1338.8 145.7V167.6M1343 143.1V159.1M1347.2 144V155.8M1353.9 142.3V154.1M1360.3 138.1V154.1M1365.7 149V162.5M1377.2 160.8V172.6M1389.5 133.9V170.9M1392.4 142.3V172.6M1394 162.5V182.7M1398.3 158.3V172.6M1399.9 167.6V179.3M1404.1 162.5V179.3M1408.7 177.7V189.4M1442.4 209.6V219.7M1453.5 180.2V219.7M1455.5 216.4V234.9M1458 219.7V234.9M1460.5 213.9V235.7M1464.8 223.1V236.6M1515.3 264.4V290.5M1519.8 280.4V300.6M1578.1 322.4V337.6M1593.9 341.8V346M1643.2 313.2V335.9M1645.7 325.8V334.2" stroke="#0000ff" stroke-width="2.7" fill="none" stroke-opacity="0.85"/><path d="M131.4 301.4L141 301.4L145.2 281.2L150.3 278.7L156.1 270.2L162.9 262.7L168.8 254.3L175.5 246.7L182.2 241.6L189 236.6L194.9 231.5L212.5 208.8L218.4 203.8L221.8 199.5L224.3 193.6L230.2 192.8L234.4 186.1L241.2 183.5L243.7 176.8L258 176L278.2 157.5L283.2 160L284.9 154.1L293.4 149.9L300.1 153.2L308.5 154.9L315.2 155.8L321.1 160.8L338 161.7L340.5 161.7L343.9 155.8L350.6 158.3L354.8 162.5L360.7 164.2L364.9 171.8L372.5 171.8L375.8 181L384.3 186.1L398.6 196.2L401.1 203.8L409.5 208L413.7 208.8L416.2 215.5L423 223.1L428 229.8L431.4 234.1L437 235.7L437 245L443.7 253.4L448.8 255.1L455.5 258.5L462.3 266.9L468.1 273.6L474 280.4L479.1 287.1L485.8 294.7L492.6 301.4L498.4 309L504.3 314L507.7 319.1L513.6 325L521.2 326.6L528.8 330L533 332.5L539.7 336.7L548.1 339.3L558.2 341L568.3 341L580.1 341L590.2 340.1L598.6 335.9L605.4 329.2L613.8 327.2L620.5 323.3L627.2 318.2L633.1 314.9L639 315.7L643.2 305.6L647.4 302.2L649.1 296.3L654.2 294.7L657.5 288.8L660.9 287.1L663.4 281.2L667.6 278.7L672.7 271.1L677.7 265.2L682.8 261L687.8 258.5L692.9 253.4L697.1 249.2L713.1 228.2L716.5 221.4L721.5 217.2L728.2 211.3L735 205.4L741.7 199.5L749 194.5L749 197.9L754.1 186.9L762.5 186.1L776.8 171.8L782.7 165.9L789.4 160.8L794.5 156.6L801.2 156.1L807.9 157.1L812.1 158.3L813.8 166.7L817.2 166.7L818 157.5L823.1 156.6L839.9 149.9L845 149L850 147.4L856.7 149.9L860.1 152.4L865.2 158.3L870.2 164.2L874.4 167.6L876.9 170.9L883.7 174.3L905.6 184.4L913.1 190.3L917.4 197.9L924.1 203.8L930 210.5L935.9 218.1L942.6 226.5L949.3 235.7L953 252.6L956.1 252.6L966.2 256.8L972.9 258.5L978 265.2L984.7 273.6L991.4 282L998.2 289.6L1004.9 297.2L1010.8 303.1L1018.4 309L1026.8 314L1035.2 321.6L1043.6 327.5L1052 332.5L1061 337.6L1061 336.7L1069.4 339.3L1077.8 340.6L1087.9 341.3L1098 340.6L1106.5 338.4L1113.2 335.9L1119.9 334.2L1125 330L1131.7 327.5L1136.8 325L1142.1 326.6L1144.8 326.6L1146 317.4L1150.2 316.5L1152.8 310.7L1157.8 308.1L1162 302.2L1167.1 297.2L1172.1 293.8L1177.2 287.1L1182.2 280.4L1187.3 274.5L1194 270.2L1199 266L1204.9 265.2L1211.7 245L1218.4 241.6L1220.9 234.9L1226 234.1L1226.8 225.6L1232.7 224L1236.1 214.7L1242.8 213L1247.9 209.6L1254.6 206.3L1262.2 202.9L1281.5 174.3L1286.6 170.9L1293.3 168.4L1295.8 162.5L1303.4 162.5L1310.2 160.8L1316.9 162.5L1325.3 161.7L1349.7 152.4L1357.3 153.2L1362.3 150.7L1367.4 152.4L1373 154.9L1373 154.1L1376.4 157.5L1377.2 165.9L1383.1 164.2L1388.2 165L1405.8 178.5L1409.2 179.3L1410.9 172.6L1416.8 176.8L1421.8 181.9L1426.9 188.6L1432.8 195.3L1438.7 203.8L1443.7 211.3L1448.8 216.4L1453 218.1L1469.8 237.4L1477.4 242.5L1482.4 250L1487.5 257.6L1492.5 263.5L1497.6 270.2L1502.6 276.1L1507.7 282L1513.6 287.1L1521.1 293.8L1524.5 294.7L1525.4 302.2L1531.2 303.9L1534.6 307.3L1539.7 312.3L1546.4 318.2L1553.1 323.3L1558.2 327.5L1564.9 330.9L1571.7 335.1L1578.4 337.6L1585.1 340.1L1593.5 341.8L1602 341L1612.1 340.6L1622.2 340.1L1628.9 336.7L1635.6 335.1L1642.4 332.5L1647.4 328.3L1652.5 326.6L1654.1 321.6L1660.9 319.9L1665.9 317.4L1671 310.7L1676.9 303.1" stroke="#0000ff" stroke-width="2.7" fill="none" stroke-linejoin="round" stroke-linecap="round" stroke-opacity="0.8"/><path d="M131.4 298.5L141 298.5L141 304.2L131.4 304.2z" fill="#0000ff"/><path d="M131.4 301.4L141 301.4" stroke="#0000ff" stroke-width="4.9" fill="none" stroke-linejoin="round" stroke-linecap="round"/><path d="M145.2 278.3L150.3 275.8L156.1 267.4L162.9 259.8L168.8 251.4L175.5 243.8L182.2 238.8L189 233.7L194.9 228.7L194.9 234.4L189 239.4L182.2 244.5L175.5 249.5L168.8 257.1L162.9 265.5L156.1 273.1L150.3 281.5L145.2 284z" fill="#0000ff"/><path d="M145.2 281.2L150.3 278.7L156.1 270.2L162.9 262.7L168.8 254.3L175.5 246.7L182.2 241.6L189 236.6L194.9 231.5" stroke="#0000ff" stroke-width="4.9" fill="none" stroke-linejoin="round" stroke-linecap="round"/><path d="M212.5 206L218.4 200.9L221.8 196.7L221.8 202.4L218.4 206.6L212.5 211.7z" fill="#0000ff"/><path d="M212.5 208.8L218.4 203.8L221.8 199.5" stroke="#0000ff" stroke-width="4.9" fill="none" stroke-linejoin="round" stroke-linecap="round"/><path d="M224.3 190.8L230.2 190L234.4 183.2L241.2 180.7L241.2 186.4L234.4 188.9L230.2 195.7L224.3 196.5z" fill="#0000ff"/><path d="M224.3 193.6L230.2 192.8L234.4 186.1L241.2 183.5" stroke="#0000ff" stroke-width="4.9" fill="none" stroke-linejoin="round" stroke-linecap="round"/><path d="M243.7 174L258 173.1L258 178.8L243.7 179.7z" fill="#0000ff"/><path d="M243.7 176.8L258 176" stroke="#0000ff" stroke-width="4.9" fill="none" stroke-linejoin="round" stroke-linecap="round"/><path d="M278.2 154.6L283.2 157.1L283.2 162.8L278.2 160.3z" fill="#0000ff"/><path d="M278.2 157.5L283.2 160" stroke="#0000ff" stroke-width="4.9" fill="none" stroke-linejoin="round" stroke-linecap="round"/><path d="M284.9 151.2L293.4 147L300.1 150.4L308.5 152.1L308.5 157.8L300.1 156.1L293.4 152.7L284.9 156.9z" fill="#0000ff"/><path d="M284.9 154.1L293.4 149.9L300.1 153.2L308.5 154.9" stroke="#0000ff" stroke-width="4.9" fill="none" stroke-linejoin="round" stroke-linecap="round"/><path d="M315.2 152.9L321.1 158L321.1 163.7L315.2 158.6z" fill="#0000ff"/><path d="M315.2 155.8L321.1 160.8" stroke="#0000ff" stroke-width="4.9" fill="none" stroke-linejoin="round" stroke-linecap="round"/><path d="M338 158.8L340.5 158.8L340.5 164.5L338 164.5z" fill="#0000ff"/><path d="M338 161.7L340.5 161.7" stroke="#0000ff" stroke-width="4.9" fill="none" stroke-linejoin="round" stroke-linecap="round"/><path d="M343.9 152.9L350.6 155.4L354.8 159.7L360.7 161.3L360.7 167L354.8 165.4L350.6 161.1L343.9 158.6z" fill="#0000ff"/><path d="M343.9 155.8L350.6 158.3L354.8 162.5L360.7 164.2" stroke="#0000ff" stroke-width="4.9" fill="none" stroke-linejoin="round" stroke-linecap="round"/><path d="M364.9 168.9L372.5 168.9L372.5 174.6L364.9 174.6z" fill="#0000ff"/><path d="M364.9 171.8L372.5 171.8" stroke="#0000ff" stroke-width="4.9" fill="none" stroke-linejoin="round" stroke-linecap="round"/><path d="M375.8 178.2L384.3 183.2L384.3 188.9L375.8 183.9z" fill="#0000ff"/><path d="M375.8 181L384.3 186.1" stroke="#0000ff" stroke-width="4.9" fill="none" stroke-linejoin="round" stroke-linecap="round"/><path d="M398.6 193.3L401.1 200.9L409.5 205.1L413.7 206L413.7 211.7L409.5 210.8L401.1 206.6L398.6 199z" fill="#0000ff"/><path d="M398.6 196.2L401.1 203.8L409.5 208L413.7 208.8" stroke="#0000ff" stroke-width="4.9" fill="none" stroke-linejoin="round" stroke-linecap="round"/><path d="M416.2 212.7L423 220.3L428 227L431.4 231.2L437 232.9L437 238.6L431.4 236.9L428 232.7L423 226L416.2 218.4z" fill="#0000ff"/><path d="M416.2 215.5L423 223.1L428 229.8L431.4 234.1L437 235.7" stroke="#0000ff" stroke-width="4.9" fill="none" stroke-linejoin="round" stroke-linecap="round"/><path d="M437 242.1L443.7 250.6L448.8 252.2L448.8 257.9L443.7 256.3L437 247.8z" fill="#0000ff"/><path d="M437 245L443.7 253.4L448.8 255.1" stroke="#0000ff" stroke-width="4.9" fill="none" stroke-linejoin="round" stroke-linecap="round"/><path d="M455.5 255.6L462.3 264L468.1 270.8L474 277.5L479.1 284.2L485.8 291.8L492.6 298.5L498.4 306.1L504.3 311.2L507.7 316.2L507.7 321.9L504.3 316.9L498.4 311.8L492.6 304.2L485.8 297.5L479.1 289.9L474 283.2L468.1 276.5L462.3 269.7L455.5 261.3z" fill="#0000ff"/><path d="M455.5 258.5L462.3 266.9L468.1 273.6L474 280.4L479.1 287.1L485.8 294.7L492.6 301.4L498.4 309L504.3 314L507.7 319.1" stroke="#0000ff" stroke-width="4.9" fill="none" stroke-linejoin="round" stroke-linecap="round"/><path d="M513.6 322.1L521.2 323.8L528.8 327.2L533 329.7L539.7 333.9L548.1 336.4L558.2 338.1L568.3 338.1L580.1 338.1L590.2 337.3L598.6 333.1L605.4 326.3L613.8 324.3L620.5 320.4L627.2 315.4L633.1 312L639 312.9L639 318.6L633.1 317.7L627.2 321.1L620.5 326.1L613.8 330L605.4 332L598.6 338.8L590.2 343L580.1 343.8L568.3 343.8L558.2 343.8L548.1 342.1L539.7 339.6L533 335.4L528.8 332.9L521.2 329.5L513.6 327.8z" fill="#0000ff"/><path d="M513.6 325L521.2 326.6L528.8 330L533 332.5L539.7 336.7L548.1 339.3L558.2 341L568.3 341L580.1 341L590.2 340.1L598.6 335.9L605.4 329.2L613.8 327.2L620.5 323.3L627.2 318.2L633.1 314.9L639 315.7" stroke="#0000ff" stroke-width="4.9" fill="none" stroke-linejoin="round" stroke-linecap="round"/><path d="M643.2 302.8L647.4 299.4L647.4 305.1L643.2 308.5z" fill="#0000ff"/><path d="M643.2 305.6L647.4 302.2" stroke="#0000ff" stroke-width="4.9" fill="none" stroke-linejoin="round" stroke-linecap="round"/><path d="M649.1 293.5L654.2 291.8L657.5 285.9L660.9 284.2L663.4 278.3L667.6 275.8L672.7 268.2L677.7 262.3L682.8 258.1L687.8 255.6L692.9 250.6L697.1 246.4L697.1 252.1L692.9 256.3L687.8 261.3L682.8 263.8L677.7 268L672.7 273.9L667.6 281.5L663.4 284L660.9 289.9L657.5 291.6L654.2 297.5L649.1 299.2z" fill="#0000ff"/><path d="M649.1 296.3L654.2 294.7L657.5 288.8L660.9 287.1L663.4 281.2L667.6 278.7L672.7 271.1L677.7 265.2L682.8 261L687.8 258.5L692.9 253.4L697.1 249.2" stroke="#0000ff" stroke-width="4.9" fill="none" stroke-linejoin="round" stroke-linecap="round"/><path d="M713.1 225.3L716.5 218.6L721.5 214.4L728.2 208.5L735 202.6L741.7 196.7L749 191.6L749 197.3L741.7 202.4L735 208.3L728.2 214.2L721.5 220.1L716.5 224.3L713.1 231z" fill="#0000ff"/><path d="M713.1 228.2L716.5 221.4L721.5 217.2L728.2 211.3L735 205.4L741.7 199.5L749 194.5" stroke="#0000ff" stroke-width="4.9" fill="none" stroke-linejoin="round" stroke-linecap="round"/><path d="M749 195L754.1 184.1L762.5 183.2L762.5 188.9L754.1 189.8L749 200.7z" fill="#0000ff"/><path d="M749 197.9L754.1 186.9L762.5 186.1" stroke="#0000ff" stroke-width="4.9" fill="none" stroke-linejoin="round" stroke-linecap="round"/><path d="M776.8 168.9L782.7 163L789.4 158L794.5 153.8L801.2 153.3L807.9 154.3L812.1 155.4L812.1 161.1L807.9 160L801.2 159L794.5 159.5L789.4 163.7L782.7 168.7L776.8 174.6z" fill="#0000ff"/><path d="M776.8 171.8L782.7 165.9L789.4 160.8L794.5 156.6L801.2 156.1L807.9 157.1L812.1 158.3" stroke="#0000ff" stroke-width="4.9" fill="none" stroke-linejoin="round" stroke-linecap="round"/><path d="M813.8 163.9L817.2 163.9L817.2 169.6L813.8 169.6z" fill="#0000ff"/><path d="M813.8 166.7L817.2 166.7" stroke="#0000ff" stroke-width="4.9" fill="none" stroke-linejoin="round" stroke-linecap="round"/><path d="M818 154.6L823.1 153.8L823.1 159.5L818 160.3z" fill="#0000ff"/><path d="M818 157.5L823.1 156.6" stroke="#0000ff" stroke-width="4.9" fill="none" stroke-linejoin="round" stroke-linecap="round"/><path d="M839.9 147L845 146.2L850 144.5L856.7 147L860.1 149.6L865.2 155.4L870.2 161.3L874.4 164.7L874.4 170.4L870.2 167L865.2 161.1L860.1 155.3L856.7 152.7L850 150.2L845 151.9L839.9 152.7z" fill="#0000ff"/><path d="M839.9 149.9L845 149L850 147.4L856.7 149.9L860.1 152.4L865.2 158.3L870.2 164.2L874.4 167.6" stroke="#0000ff" stroke-width="4.9" fill="none" stroke-linejoin="round" stroke-linecap="round"/><path d="M876.9 168.1L883.7 171.4L883.7 177.1L876.9 173.8z" fill="#0000ff"/><path d="M876.9 170.9L883.7 174.3" stroke="#0000ff" stroke-width="4.9" fill="none" stroke-linejoin="round" stroke-linecap="round"/><path d="M905.6 181.5L913.1 187.4L917.4 195L924.1 200.9L930 207.6L935.9 215.2L942.6 223.6L949.3 232.9L949.3 238.6L942.6 229.3L935.9 220.9L930 213.3L924.1 206.6L917.4 200.7L913.1 193.1L905.6 187.2z" fill="#0000ff"/><path d="M905.6 184.4L913.1 190.3L917.4 197.9L924.1 203.8L930 210.5L935.9 218.1L942.6 226.5L949.3 235.7" stroke="#0000ff" stroke-width="4.9" fill="none" stroke-linejoin="round" stroke-linecap="round"/><path d="M953 249.7L956.1 249.7L956.1 255.4L953 255.4z" fill="#0000ff"/><path d="M953 252.6L956.1 252.6" stroke="#0000ff" stroke-width="4.9" fill="none" stroke-linejoin="round" stroke-linecap="round"/><path d="M966.2 253.9L972.9 255.6L978 262.3L984.7 270.8L991.4 279.2L998.2 286.8L1004.9 294.3L1010.8 300.2L1010.8 305.9L1004.9 300L998.2 292.5L991.4 284.9L984.7 276.5L978 268L972.9 261.3L966.2 259.6z" fill="#0000ff"/><path d="M966.2 256.8L972.9 258.5L978 265.2L984.7 273.6L991.4 282L998.2 289.6L1004.9 297.2L1010.8 303.1" stroke="#0000ff" stroke-width="4.9" fill="none" stroke-linejoin="round" stroke-linecap="round"/><path d="M1018.4 306.1L1026.8 311.2L1035.2 318.7L1043.6 324.6L1052 329.7L1061 334.7L1061 340.4L1052 335.4L1043.6 330.3L1035.2 324.4L1026.8 316.9L1018.4 311.8z" fill="#0000ff"/><path d="M1018.4 309L1026.8 314L1035.2 321.6L1043.6 327.5L1052 332.5L1061 337.6" stroke="#0000ff" stroke-width="4.9" fill="none" stroke-linejoin="round" stroke-linecap="round"/><path d="M1061 333.9L1069.4 336.4L1077.8 337.8L1087.9 338.4L1098 337.8L1106.5 335.6L1113.2 333.1L1119.9 331.4L1125 327.2L1131.7 324.6L1136.8 322.1L1136.8 327.8L1131.7 330.3L1125 332.9L1119.9 337.1L1113.2 338.8L1106.5 341.3L1098 343.5L1087.9 344.1L1077.8 343.5L1069.4 342.1L1061 339.6z" fill="#0000ff"/><path d="M1061 336.7L1069.4 339.3L1077.8 340.6L1087.9 341.3L1098 340.6L1106.5 338.4L1113.2 335.9L1119.9 334.2L1125 330L1131.7 327.5L1136.8 325" stroke="#0000ff" stroke-width="4.9" fill="none" stroke-linejoin="round" stroke-linecap="round"/><path d="M1142.1 323.8L1144.8 323.8L1144.8 329.5L1142.1 329.5z" fill="#0000ff"/><path d="M1142.1 326.6L1144.8 326.6" stroke="#0000ff" stroke-width="4.9" fill="none" stroke-linejoin="round" stroke-linecap="round"/><path d="M1146 314.5L1150.2 313.7L1152.8 307.8L1157.8 305.3L1162 299.4L1167.1 294.3L1172.1 291L1177.2 284.2L1182.2 277.5L1187.3 271.6L1194 267.4L1199 263.2L1204.9 262.3L1204.9 268L1199 268.9L1194 273.1L1187.3 277.3L1182.2 283.2L1177.2 289.9L1172.1 296.7L1167.1 300L1162 305.1L1157.8 311L1152.8 313.5L1150.2 319.4L1146 320.2z" fill="#0000ff"/><path d="M1146 317.4L1150.2 316.5L1152.8 310.7L1157.8 308.1L1162 302.2L1167.1 297.2L1172.1 293.8L1177.2 287.1L1182.2 280.4L1187.3 274.5L1194 270.2L1199 266L1204.9 265.2" stroke="#0000ff" stroke-width="4.9" fill="none" stroke-linejoin="round" stroke-linecap="round"/><path d="M1211.7 242.1L1218.4 238.8L1218.4 244.5L1211.7 247.8z" fill="#0000ff"/><path d="M1211.7 245L1218.4 241.6" stroke="#0000ff" stroke-width="4.9" fill="none" stroke-linejoin="round" stroke-linecap="round"/><path d="M1220.9 232L1226 231.2L1226 236.9L1220.9 237.7z" fill="#0000ff"/><path d="M1220.9 234.9L1226 234.1" stroke="#0000ff" stroke-width="4.9" fill="none" stroke-linejoin="round" stroke-linecap="round"/><path d="M1226.8 222.8L1232.7 221.1L1236.1 211.8L1242.8 210.2L1247.9 206.8L1254.6 203.4L1262.2 200.1L1262.2 205.8L1254.6 209.1L1247.9 212.5L1242.8 215.9L1236.1 217.5L1232.7 226.8L1226.8 228.5z" fill="#0000ff"/><path d="M1226.8 225.6L1232.7 224L1236.1 214.7L1242.8 213L1247.9 209.6L1254.6 206.3L1262.2 202.9" stroke="#0000ff" stroke-width="4.9" fill="none" stroke-linejoin="round" stroke-linecap="round"/><path d="M1281.5 171.4L1286.6 168.1L1293.3 165.5L1295.8 159.7L1303.4 159.7L1310.2 158L1316.9 159.7L1325.3 158.8L1325.3 164.5L1316.9 165.4L1310.2 163.7L1303.4 165.4L1295.8 165.4L1293.3 171.2L1286.6 173.8L1281.5 177.1z" fill="#0000ff"/><path d="M1281.5 174.3L1286.6 170.9L1293.3 168.4L1295.8 162.5L1303.4 162.5L1310.2 160.8L1316.9 162.5L1325.3 161.7" stroke="#0000ff" stroke-width="4.9" fill="none" stroke-linejoin="round" stroke-linecap="round"/><path d="M1349.7 149.6L1357.3 150.4L1357.3 156.1L1349.7 155.3z" fill="#0000ff"/><path d="M1349.7 152.4L1357.3 153.2" stroke="#0000ff" stroke-width="4.9" fill="none" stroke-linejoin="round" stroke-linecap="round"/><path d="M1362.3 147.9L1367.4 149.6L1373 152.1L1373 157.8L1367.4 155.3L1362.3 153.6z" fill="#0000ff"/><path d="M1362.3 150.7L1367.4 152.4L1373 154.9" stroke="#0000ff" stroke-width="4.9" fill="none" stroke-linejoin="round" stroke-linecap="round"/><path d="M1373 151.2L1376.4 154.6L1377.2 163L1383.1 161.3L1388.2 162.2L1388.2 167.9L1383.1 167L1377.2 168.7L1376.4 160.3L1373 156.9z" fill="#0000ff"/><path d="M1373 154.1L1376.4 157.5L1377.2 165.9L1383.1 164.2L1388.2 165" stroke="#0000ff" stroke-width="4.9" fill="none" stroke-linejoin="round" stroke-linecap="round"/><path d="M1405.8 175.6L1409.2 176.5L1409.2 182.2L1405.8 181.3z" fill="#0000ff"/><path d="M1405.8 178.5L1409.2 179.3" stroke="#0000ff" stroke-width="4.9" fill="none" stroke-linejoin="round" stroke-linecap="round"/><path d="M1410.9 169.8L1416.8 174L1421.8 179L1426.9 185.7L1432.8 192.5L1438.7 200.9L1443.7 208.5L1448.8 213.5L1453 215.2L1453 220.9L1448.8 219.2L1443.7 214.2L1438.7 206.6L1432.8 198.2L1426.9 191.4L1421.8 184.7L1416.8 179.7L1410.9 175.5z" fill="#0000ff"/><path d="M1410.9 172.6L1416.8 176.8L1421.8 181.9L1426.9 188.6L1432.8 195.3L1438.7 203.8L1443.7 211.3L1448.8 216.4L1453 218.1" stroke="#0000ff" stroke-width="4.9" fill="none" stroke-linejoin="round" stroke-linecap="round"/><path d="M1469.8 234.6L1477.4 239.6L1482.4 247.2L1487.5 254.8L1492.5 260.7L1497.6 267.4L1502.6 273.3L1507.7 279.2L1513.6 284.2L1513.6 289.9L1507.7 284.9L1502.6 279L1497.6 273.1L1492.5 266.4L1487.5 260.5L1482.4 252.9L1477.4 245.3L1469.8 240.3z" fill="#0000ff"/><path d="M1469.8 237.4L1477.4 242.5L1482.4 250L1487.5 257.6L1492.5 263.5L1497.6 270.2L1502.6 276.1L1507.7 282L1513.6 287.1" stroke="#0000ff" stroke-width="4.9" fill="none" stroke-linejoin="round" stroke-linecap="round"/><path d="M1521.1 291L1524.5 291.8L1524.5 297.5L1521.1 296.7z" fill="#0000ff"/><path d="M1521.1 293.8L1524.5 294.7" stroke="#0000ff" stroke-width="4.9" fill="none" stroke-linejoin="round" stroke-linecap="round"/><path d="M1525.4 299.4L1531.2 301.1L1534.6 304.4L1539.7 309.5L1546.4 315.4L1553.1 320.4L1558.2 324.6L1564.9 328L1571.7 332.2L1578.4 334.7L1585.1 337.3L1593.5 338.9L1602 338.1L1612.1 337.8L1622.2 337.3L1628.9 333.9L1635.6 332.2L1642.4 329.7L1642.4 335.4L1635.6 337.9L1628.9 339.6L1622.2 343L1612.1 343.5L1602 343.8L1593.5 344.6L1585.1 343L1578.4 340.4L1571.7 337.9L1564.9 333.7L1558.2 330.3L1553.1 326.1L1546.4 321.1L1539.7 315.2L1534.6 310.1L1531.2 306.8L1525.4 305.1z" fill="#0000ff"/><path d="M1525.4 302.2L1531.2 303.9L1534.6 307.3L1539.7 312.3L1546.4 318.2L1553.1 323.3L1558.2 327.5L1564.9 330.9L1571.7 335.1L1578.4 337.6L1585.1 340.1L1593.5 341.8L1602 341L1612.1 340.6L1622.2 340.1L1628.9 336.7L1635.6 335.1L1642.4 332.5" stroke="#0000ff" stroke-width="4.9" fill="none" stroke-linejoin="round" stroke-linecap="round"/><path d="M1647.4 325.5L1652.5 323.8L1652.5 329.5L1647.4 331.2z" fill="#0000ff"/><path d="M1647.4 328.3L1652.5 326.6" stroke="#0000ff" stroke-width="4.9" fill="none" stroke-linejoin="round" stroke-linecap="round"/><path d="M1654.1 318.7L1660.9 317.1L1665.9 314.5L1671 307.8L1676.9 300.2L1676.9 305.9L1671 313.5L1665.9 320.2L1660.9 322.8L1654.1 324.4z" fill="#0000ff"/><path d="M1654.1 321.6L1660.9 319.9L1665.9 317.4L1671 310.7L1676.9 303.1" stroke="#0000ff" stroke-width="4.9" fill="none" stroke-linejoin="round" stroke-linecap="round"/><path d="M131.2 564.9L133 539.9L136.2 518.7L140 529.9L143.7 541.1L147.5 524.9L151.2 507.4L157.5 512.4L163.7 503.7L172.5 501.9L182.5 497.4L192.5 494.9L203.7 493.7L207.5 484.9L211.2 459.9L215 449.9L218.7 464.9L221.2 478.7L224.9 457.4L229.9 435L233.7 442.4L237.4 449.4L242.4 437.5L249.9 422.5L259.9 426.2L269.9 422.5L273.7 407.5L279.9 404.5L289.9 405L299.9 408.7L306.2 396.2L311.2 385.5L319.9 391.2L331.1 398.7L338.6 386.2L344.9 379.5L352.4 390L357.4 405L361.9 421.2L367.4 402.5L372.4 385L377.4 405L382.4 436.2L386.1 405L389.4 388.7L392.4 420L394.9 482.4L397.4 482.4L401.1 415L404.4 378L407.4 415L409.9 476.2L413.6 427.5L416.9 392.5L418.6 435L422.3 507.4L426.1 469.9L429.8 440L433.6 437.5L435.3 484.9L438.6 474.9L442.3 462.4L444.8 477.4L448.6 493.7L457.3 501.2L464.8 494.9L471.1 489.4L474.8 499.9L479.8 524.9L484.8 544.9L492.3 541.1L502.3 547.4L507.3 559.9L512.3 572.4L517.3 591.9L522.3 572.4L526.8 554.9L531 579.9L536 612.4L541 626.1L548.5 614.9L552.3 592.4L557.3 573.6L562.3 589.9L567.3 613.6L571 616.1L577.3 602.4L582.3 581.1L584 579.9L587.7 592.4L592.7 607.4L597.7 602.4L602.7 577.4L607.7 559.9L611.5 584.9L615.2 609.9L619 584.9L624 552.4L627 533.7L630.2 557.4L634 584.4L637.7 564.9L642.7 537.4L646.5 544.9L650.2 556.1L655.2 532.4L660.2 514.4L664 524.9L667 527.9L671.5 509.9L681.5 507.4L691.4 501.2L703.9 497.4L713.9 493.7L722.7 491.2L726.4 472.4L730.2 459.9L733.9 469.9L736.9 479.9L740.2 459.9L743.9 440L748.9 434.5L755.2 441.9L763.9 435L773.9 427.5L780.2 415L788.9 410L798.9 412L806.4 414.5L810.1 400L815.1 389.5L823.9 395.5L833.9 398.7L838.9 397.5L843.9 385L849.4 378.7L857.6 386.2L862.6 397.5L867.6 408.7L873.9 400L883.9 391.2L888.8 387.5L892.6 400L896.3 430L898.3 449.9L902.6 410L906.3 384.5L910.1 415L913.3 456.2L916.3 402.5L918.8 368.7L921.3 405L923.8 452.4L926.3 499.9L928.8 452.4L932.6 399.5L936.3 440L939.3 492.4L942.6 452.4L946.8 417.5L949.3 459.9L952.6 498.7L955.8 479.9L958.8 468.7L961.3 484.9L963.3 502.4L967.6 487.4L971.3 483.7L976.3 479.4L981.3 494.9L986.3 503.7L991.3 513.7L998.8 521.2L1006.3 526.2L1010 534.9L1013.3 544.9L1017.5 559.9L1021.3 568.6L1027.5 564.9L1033.8 569.9L1040 554.9L1043.8 574.9L1048 609.9L1053 612.4L1058 614.9L1061.7 584.9L1068 557.4L1071.7 579.9L1075.5 614.9L1079.2 646.1L1088 646.1L1091.7 609.9L1096.7 569.9L1101 548.6L1104.2 569.9L1108 614.9L1112.5 644.8L1116.7 634.9L1121.7 589.9L1128 541.9L1133 569.9L1137.5 602.4L1141.7 574.9L1147.5 542.4L1151.7 559.9L1155.4 578.6L1159.2 547.4L1163.4 526.2L1167.4 537.4L1169.9 544.9L1174.2 527.4L1180.4 514.9L1190.4 509.9L1202.9 501.2L1212.9 496.2L1227.9 494.4L1239.9 491.9L1244.2 472.4L1249.1 454.9L1252.9 462.4L1256.6 476.2L1260.4 449.9L1264.9 434.5L1271.6 440L1277.9 444.9L1282.9 430L1288.4 420L1295.4 425L1301.6 425L1306.6 408.7L1312.9 406.2L1322.9 408L1332.9 408.7L1337.9 395L1342.4 385L1352.8 392.5L1364.1 400L1370.3 388.7L1375.3 383L1384.1 393.7L1389.1 405L1394.8 413.7L1400.3 401.2L1406.6 393.7L1411.6 405L1416.6 420L1422.8 431.2L1431.6 426.2L1437.8 433.7L1442.8 433.7L1445.8 417.5L1447.8 435L1450.8 459.9L1453.3 484.4L1456.5 459.9L1460.3 440L1464 459.9L1467.3 481.2L1470.3 459.9L1474.8 442.4L1477.8 469.9L1481.5 499.9L1484.8 489.9L1489 503.7L1495.3 492.4L1500.8 484.9L1506.5 497.4L1512 512.4L1515.4 524.9L1519.2 539.9L1522.9 546.1L1527.9 534.9L1532.4 528.7L1535.4 544.9L1539.2 564.9L1541.7 569.9L1546.7 558.6L1550.4 579.9L1555.4 604.9L1560.4 579.9L1565.4 559.9L1569.2 551.1L1571.7 584.9L1574.9 619.9L1577.9 646.1L1585.4 646.1L1589.2 609.9L1594.1 579.9L1598.4 564.9L1602.4 589.9L1606.6 617.4L1610.9 628.6L1615.4 609.9L1619.1 584.9L1623.4 559.4L1627.4 584.9L1631.6 608.6L1635.4 611.9L1640.4 589.9L1644.1 569.9L1647.4 564.9L1650.4 572.4L1653.4 579.9L1657.4 559.9L1661.6 549.9L1665.9 567.4L1669.9 579.9L1672.9 554.9L1676.6 529.9" stroke="#ff0000" stroke-width="2.8" fill="none" stroke-linejoin="round" stroke-linecap="round" stroke-opacity="0.68"/><ellipse cx="136.2" cy="518.7" rx="3.1" ry="3.7" fill="#ff0000"/><ellipse cx="143.7" cy="541.1" rx="3.1" ry="3.7" fill="#ff0000"/><path d="M151.2 504.3L157.5 509.3L163.7 500.6L172.5 498.8L182.5 494.3L192.5 491.8L203.7 490.6L203.7 496.8L192.5 498L182.5 500.5L172.5 505L163.7 506.8L157.5 515.5L151.2 510.5z" fill="#ff0000"/><path d="M151.2 507.4L157.5 512.4L163.7 503.7L172.5 501.9L182.5 497.4L192.5 494.9L203.7 493.7" stroke="#ff0000" stroke-width="5.6000000000000005" fill="none" stroke-linejoin="round" stroke-linecap="round"/><ellipse cx="215" cy="449.9" rx="3.1" ry="3.7" fill="#ff0000"/><ellipse cx="221.2" cy="478.7" rx="3.1" ry="3.7" fill="#ff0000"/><ellipse cx="229.9" cy="435" rx="3.1" ry="3.7" fill="#ff0000"/><ellipse cx="237.4" cy="449.4" rx="3.1" ry="3.7" fill="#ff0000"/><path d="M249.9 419.4L259.9 423.1L269.9 419.4L273.7 404.4L279.9 401.4L289.9 401.9L299.9 405.6L306.2 393.1L311.2 382.4L319.9 388.1L331.1 395.6L338.6 383.1L344.9 376.4L352.4 386.9L352.4 393.1L344.9 382.6L338.6 389.3L331.1 401.8L319.9 394.3L311.2 388.6L306.2 399.3L299.9 411.8L289.9 408.1L279.9 407.6L273.7 410.6L269.9 425.6L259.9 429.3L249.9 425.6z" fill="#ff0000"/><path d="M249.9 422.5L259.9 426.2L269.9 422.5L273.7 407.5L279.9 404.5L289.9 405L299.9 408.7L306.2 396.2L311.2 385.5L319.9 391.2L331.1 398.7L338.6 386.2L344.9 379.5L352.4 390" stroke="#ff0000" stroke-width="5.6000000000000005" fill="none" stroke-linejoin="round" stroke-linecap="round"/><ellipse cx="361.9" cy="421.2" rx="3.1" ry="3.7" fill="#ff0000"/><ellipse cx="372.4" cy="385" rx="3.1" ry="3.7" fill="#ff0000"/><ellipse cx="429.8" cy="440" rx="3.1" ry="3.7" fill="#ff0000"/><ellipse cx="442.3" cy="462.4" rx="3.1" ry="3.7" fill="#ff0000"/><path d="M448.6 490.6L457.3 498.1L464.8 491.8L471.1 486.3L471.1 492.5L464.8 498L457.3 504.3L448.6 496.8z" fill="#ff0000"/><path d="M448.6 493.7L457.3 501.2L464.8 494.9L471.1 489.4" stroke="#ff0000" stroke-width="5.6000000000000005" fill="none" stroke-linejoin="round" stroke-linecap="round"/><path d="M484.8 541.8L492.3 538L502.3 544.3L507.3 556.8L507.3 563L502.3 550.5L492.3 544.2L484.8 548z" fill="#ff0000"/><path d="M484.8 544.9L492.3 541.1L502.3 547.4L507.3 559.9" stroke="#ff0000" stroke-width="5.6000000000000005" fill="none" stroke-linejoin="round" stroke-linecap="round"/><ellipse cx="517.3" cy="591.9" rx="3.1" ry="3.7" fill="#ff0000"/><path d="M541 623L548.5 611.8L548.5 618L541 629.2z" fill="#ff0000"/><path d="M541 626.1L548.5 614.9" stroke="#ff0000" stroke-width="5.6000000000000005" fill="none" stroke-linejoin="round" stroke-linecap="round"/><ellipse cx="557.3" cy="573.6" rx="3.1" ry="3.7" fill="#ff0000"/><path d="M567.3 610.5L571 613L571 619.2L567.3 616.7z" fill="#ff0000"/><path d="M567.3 613.6L571 616.1" stroke="#ff0000" stroke-width="5.6000000000000005" fill="none" stroke-linejoin="round" stroke-linecap="round"/><path d="M592.7 604.3L597.7 599.3L597.7 605.5L592.7 610.5z" fill="#ff0000"/><path d="M592.7 607.4L597.7 602.4" stroke="#ff0000" stroke-width="5.6000000000000005" fill="none" stroke-linejoin="round" stroke-linecap="round"/><ellipse cx="615.2" cy="609.9" rx="3.1" ry="3.7" fill="#ff0000"/><ellipse cx="642.7" cy="537.4" rx="3.1" ry="3.7" fill="#ff0000"/><ellipse cx="650.2" cy="556.1" rx="3.1" ry="3.7" fill="#ff0000"/><ellipse cx="660.2" cy="514.4" rx="3.1" ry="3.7" fill="#ff0000"/><path d="M667 524.8L671.5 506.8L681.5 504.3L691.4 498.1L703.9 494.3L713.9 490.6L722.7 488.1L722.7 494.3L713.9 496.8L703.9 500.5L691.4 504.3L681.5 510.5L671.5 513L667 531z" fill="#ff0000"/><path d="M667 527.9L671.5 509.9L681.5 507.4L691.4 501.2L703.9 497.4L713.9 493.7L722.7 491.2" stroke="#ff0000" stroke-width="5.6000000000000005" fill="none" stroke-linejoin="round" stroke-linecap="round"/><ellipse cx="730.2" cy="459.9" rx="3.1" ry="3.7" fill="#ff0000"/><path d="M743.9 436.9L748.9 431.4L755.2 438.8L763.9 431.9L773.9 424.4L780.2 411.9L788.9 406.9L798.9 408.9L806.4 411.4L810.1 396.9L815.1 386.4L823.9 392.4L833.9 395.6L838.9 394.4L843.9 381.9L849.4 375.6L857.6 383.1L862.6 394.4L867.6 405.6L873.9 396.9L883.9 388.1L888.8 384.4L888.8 390.6L883.9 394.3L873.9 403.1L867.6 411.8L862.6 400.6L857.6 389.3L849.4 381.8L843.9 388.1L838.9 400.6L833.9 401.8L823.9 398.6L815.1 392.6L810.1 403.1L806.4 417.6L798.9 415.1L788.9 413.1L780.2 418.1L773.9 430.6L763.9 438.1L755.2 445L748.9 437.6L743.9 443.1z" fill="#ff0000"/><path d="M743.9 440L748.9 434.5L755.2 441.9L763.9 435L773.9 427.5L780.2 415L788.9 410L798.9 412L806.4 414.5L810.1 400L815.1 389.5L823.9 395.5L833.9 398.7L838.9 397.5L843.9 385L849.4 378.7L857.6 386.2L862.6 397.5L867.6 408.7L873.9 400L883.9 391.2L888.8 387.5" stroke="#ff0000" stroke-width="5.6000000000000005" fill="none" stroke-linejoin="round" stroke-linecap="round"/><ellipse cx="958.8" cy="468.7" rx="3.1" ry="3.7" fill="#ff0000"/><path d="M963.3 499.3L967.6 484.3L971.3 480.6L976.3 476.3L981.3 491.8L986.3 500.6L991.3 510.6L998.8 518.1L1006.3 523.1L1006.3 529.3L998.8 524.3L991.3 516.8L986.3 506.8L981.3 498L976.3 482.5L971.3 486.8L967.6 490.5L963.3 505.5z" fill="#ff0000"/><path d="M963.3 502.4L967.6 487.4L971.3 483.7L976.3 479.4L981.3 494.9L986.3 503.7L991.3 513.7L998.8 521.2L1006.3 526.2" stroke="#ff0000" stroke-width="5.6000000000000005" fill="none" stroke-linejoin="round" stroke-linecap="round"/><ellipse cx="1013.3" cy="544.9" rx="3.1" ry="3.7" fill="#ff0000"/><path d="M1021.3 565.5L1027.5 561.8L1033.8 566.8L1040 551.8L1040 558L1033.8 573L1027.5 568L1021.3 571.7z" fill="#ff0000"/><path d="M1021.3 568.6L1027.5 564.9L1033.8 569.9L1040 554.9" stroke="#ff0000" stroke-width="5.6000000000000005" fill="none" stroke-linejoin="round" stroke-linecap="round"/><path d="M1053 609.3L1058 611.8L1058 618L1053 615.5z" fill="#ff0000"/><path d="M1053 612.4L1058 614.9" stroke="#ff0000" stroke-width="5.6000000000000005" fill="none" stroke-linejoin="round" stroke-linecap="round"/><path d="M1079.2 643L1088 643L1088 649.2L1079.2 649.2z" fill="#ff0000"/><path d="M1079.2 646.1L1088 646.1" stroke="#ff0000" stroke-width="5.6000000000000005" fill="none" stroke-linejoin="round" stroke-linecap="round"/><ellipse cx="1112.5" cy="644.8" rx="3.1" ry="3.7" fill="#ff0000"/><ellipse cx="1128" cy="541.9" rx="3.1" ry="3.7" fill="#ff0000"/><ellipse cx="1137.5" cy="602.4" rx="3.1" ry="3.7" fill="#ff0000"/><ellipse cx="1147.5" cy="542.4" rx="3.1" ry="3.7" fill="#ff0000"/><ellipse cx="1169.9" cy="544.9" rx="3.1" ry="3.7" fill="#ff0000"/><path d="M1180.4 511.8L1190.4 506.8L1202.9 498.1L1212.9 493.1L1227.9 491.3L1239.9 488.8L1239.9 495L1227.9 497.5L1212.9 499.3L1202.9 504.3L1190.4 513L1180.4 518z" fill="#ff0000"/><path d="M1180.4 514.9L1190.4 509.9L1202.9 501.2L1212.9 496.2L1227.9 494.4L1239.9 491.9" stroke="#ff0000" stroke-width="5.6000000000000005" fill="none" stroke-linejoin="round" stroke-linecap="round"/><ellipse cx="1249.1" cy="454.9" rx="3.1" ry="3.7" fill="#ff0000"/><path d="M1264.9 431.4L1271.6 436.9L1277.9 441.8L1282.9 426.9L1288.4 416.9L1295.4 421.9L1301.6 421.9L1306.6 405.6L1312.9 403.1L1322.9 404.9L1332.9 405.6L1337.9 391.9L1342.4 381.9L1352.8 389.4L1364.1 396.9L1370.3 385.6L1375.3 379.9L1384.1 390.6L1389.1 401.9L1394.8 410.6L1400.3 398.1L1406.6 390.6L1411.6 401.9L1416.6 416.9L1422.8 428.1L1431.6 423.1L1437.8 430.6L1442.8 430.6L1442.8 436.8L1437.8 436.8L1431.6 429.3L1422.8 434.3L1416.6 423.1L1411.6 408.1L1406.6 396.8L1400.3 404.3L1394.8 416.8L1389.1 408.1L1384.1 396.8L1375.3 386.1L1370.3 391.8L1364.1 403.1L1352.8 395.6L1342.4 388.1L1337.9 398.1L1332.9 411.8L1322.9 411.1L1312.9 409.3L1306.6 411.8L1301.6 428.1L1295.4 428.1L1288.4 423.1L1282.9 433.1L1277.9 448L1271.6 443.1L1264.9 437.6z" fill="#ff0000"/><path d="M1264.9 434.5L1271.6 440L1277.9 444.9L1282.9 430L1288.4 420L1295.4 425L1301.6 425L1306.6 408.7L1312.9 406.2L1322.9 408L1332.9 408.7L1337.9 395L1342.4 385L1352.8 392.5L1364.1 400L1370.3 388.7L1375.3 383L1384.1 393.7L1389.1 405L1394.8 413.7L1400.3 401.2L1406.6 393.7L1411.6 405L1416.6 420L1422.8 431.2L1431.6 426.2L1437.8 433.7L1442.8 433.7" stroke="#ff0000" stroke-width="5.6000000000000005" fill="none" stroke-linejoin="round" stroke-linecap="round"/><path d="M1484.8 486.8L1489 500.6L1495.3 489.3L1500.8 481.8L1506.5 494.3L1512 509.3L1512 515.5L1506.5 500.5L1500.8 488L1495.3 495.5L1489 506.8L1484.8 493z" fill="#ff0000"/><path d="M1484.8 489.9L1489 503.7L1495.3 492.4L1500.8 484.9L1506.5 497.4L1512 512.4" stroke="#ff0000" stroke-width="5.6000000000000005" fill="none" stroke-linejoin="round" stroke-linecap="round"/><path d="M1522.9 543L1527.9 531.8L1532.4 525.6L1532.4 531.8L1527.9 538L1522.9 549.2z" fill="#ff0000"/><path d="M1522.9 546.1L1527.9 534.9L1532.4 528.7" stroke="#ff0000" stroke-width="5.6000000000000005" fill="none" stroke-linejoin="round" stroke-linecap="round"/><path d="M1541.7 566.8L1546.7 555.5L1546.7 561.7L1541.7 573z" fill="#ff0000"/><path d="M1541.7 569.9L1546.7 558.6" stroke="#ff0000" stroke-width="5.6000000000000005" fill="none" stroke-linejoin="round" stroke-linecap="round"/><ellipse cx="1555.4" cy="604.9" rx="3.1" ry="3.7" fill="#ff0000"/><path d="M1577.9 643L1585.4 643L1585.4 649.2L1577.9 649.2z" fill="#ff0000"/><path d="M1577.9 646.1L1585.4 646.1" stroke="#ff0000" stroke-width="5.6000000000000005" fill="none" stroke-linejoin="round" stroke-linecap="round"/><ellipse cx="1610.9" cy="628.6" rx="3.1" ry="3.7" fill="#ff0000"/><path d="M1631.6 605.5L1635.4 608.8L1635.4 615L1631.6 611.7z" fill="#ff0000"/><path d="M1631.6 608.6L1635.4 611.9" stroke="#ff0000" stroke-width="5.6000000000000005" fill="none" stroke-linejoin="round" stroke-linecap="round"/><ellipse cx="1647.4" cy="564.9" rx="3.1" ry="3.7" fill="#ff0000"/><ellipse cx="1653.4" cy="579.9" rx="3.1" ry="3.7" fill="#ff0000"/><ellipse cx="1661.6" cy="549.9" rx="3.1" ry="3.7" fill="#ff0000"/><path d="M131.2 843L138.7 846.2L147.5 844.7L160 844.7L172.5 844.2L185 841.2L197.5 835.5L206.2 829.2L212.5 826.2L224.9 824.2L233.7 826.7L242.4 824.2L249.9 824.7L257.4 826.7L264.9 826.2L272.4 822.2L282.4 821.7L292.4 821.7L302.4 824.7L312.4 828L322.4 830.5L329.9 833L338.6 829.2L347.4 833L357.4 836.2L367.4 838L373.6 841.7L382.4 842.2L389.9 846.7L394.9 844.2L398.6 840L404.9 845.5L411.1 841.2L417.4 849.2L424.8 848L431.1 853L439.8 853L449.8 854.7L456.1 856.2L461.1 854.2L467.3 856.7L474.8 860.5L484.8 860.5L493.6 862.2L502.3 861.2L512.3 860.5L522.3 856.2L529.8 858.7L536 853L542.3 848L549.8 846.2L557.3 848L564.8 848L572.3 844.7L579.8 845.5L584 847.2L591.5 844.2L600.2 841.7L610.2 847.2L620.2 841.7L629 846.7L636.5 843.7L644 847.2L652.7 841.7L661.5 846.2L671.5 846.7L684 844.7L696.4 843.7L706.4 840.5L713.9 833.7L721.4 828L731.4 827.2L740.2 825.5L747.7 828L756.4 827.2L763.9 825.5L771.4 824.7L778.9 821.7L788.9 821.7L798.9 821.7L808.9 824.2L818.9 826.7L828.9 828L836.4 827.2L842.6 825.5L851.4 828L861.4 833L871.4 837.2L881.4 838.7L890.1 842.2L898.8 841.2L908.8 841.7L915.1 840.5L921.3 848L927.6 844.7L933.8 850.5L942.6 848.7L948.8 853L958.8 853L970.1 853L981.3 856.7L991.3 860.5L1001.3 863L1011.3 863L1021.3 861.2L1031.3 859.2L1041.3 858.7L1048 857.2L1058 853.7L1071.7 854.7L1080.5 844.2L1088 835.5L1095.5 835.5L1105.5 844.7L1113 836.7L1120.5 833.7L1128 838L1134.2 840.5L1141.7 838L1149.2 843L1157.9 840.5L1165.4 843.7L1175.4 846.2L1185.4 848L1197.9 848.7L1210.4 846.2L1222.9 838L1232.9 833L1242.9 829.2L1255.4 828L1265.4 827.2L1274.1 826.7L1280.4 821.7L1292.9 821.7L1305.4 821.7L1312.9 823.7L1322.9 824.2L1331.6 826.7L1344.1 821.7L1355.3 824.7L1367.8 829.2L1380.3 833.7L1392.8 838.7L1402.8 836.2L1415.3 836.2L1427.8 840.5L1440.3 843L1450.3 848L1460.3 848L1470.3 846.7L1480.3 850.5L1492.8 854.7L1502.8 858L1512 861.2L1522.9 860.5L1532.9 861.2L1542.9 859.2L1552.9 858.7L1562.9 853L1571.7 854.7L1580.4 845.5L1590.4 838L1601.6 844.2L1615.4 838L1625.4 842.2L1640.4 840.5L1652.9 842.2L1665.4 844.2L1676.6 844.7L1676.6 851.2L1665.4 850.7L1652.9 848.7L1640.4 847L1625.4 848.7L1615.4 844.5L1601.6 850.7L1590.4 844.5L1580.4 852L1571.7 861.2L1562.9 859.5L1552.9 865.2L1542.9 865.7L1532.9 867.7L1522.9 867L1512 867.7L1502.8 864.5L1492.8 861.2L1480.3 857L1470.3 853.2L1460.3 854.5L1450.3 854.5L1440.3 849.5L1427.8 847L1415.3 842.7L1402.8 842.7L1392.8 845.2L1380.3 840.2L1367.8 835.7L1355.3 831.2L1344.1 828.2L1331.6 833.2L1322.9 830.7L1312.9 830.2L1305.4 828.2L1292.9 828.2L1280.4 828.2L1274.1 833.2L1265.4 833.7L1255.4 834.5L1242.9 835.7L1232.9 839.5L1222.9 844.5L1210.4 852.7L1197.9 855.2L1185.4 854.5L1175.4 852.7L1165.4 850.2L1157.9 847L1149.2 849.5L1141.7 844.5L1134.2 847L1128 844.5L1120.5 840.2L1113 843.2L1105.5 851.2L1095.5 842L1088 842L1080.5 850.7L1071.7 861.2L1058 860.2L1048 863.7L1041.3 865.2L1031.3 865.7L1021.3 867.7L1011.3 869.5L1001.3 869.5L991.3 867L981.3 863.2L970.1 859.5L958.8 859.5L948.8 859.5L942.6 855.2L933.8 857L927.6 851.2L921.3 854.5L915.1 847L908.8 848.2L898.8 847.7L890.1 848.7L881.4 845.2L871.4 843.7L861.4 839.5L851.4 834.5L842.6 832L836.4 833.7L828.9 834.5L818.9 833.2L808.9 830.7L798.9 828.2L788.9 828.2L778.9 828.2L771.4 831.2L763.9 832L756.4 833.7L747.7 834.5L740.2 832L731.4 833.7L721.4 834.5L713.9 840.2L706.4 847L696.4 850.2L684 851.2L671.5 853.2L661.5 852.7L652.7 848.2L644 853.7L636.5 850.2L629 853.2L620.2 848.2L610.2 853.7L600.2 848.2L591.5 850.7L584 853.7L579.8 852L572.3 851.2L564.8 854.5L557.3 854.5L549.8 852.7L542.3 854.5L536 859.5L529.8 865.2L522.3 862.7L512.3 867L502.3 867.7L493.6 868.7L484.8 867L474.8 867L467.3 863.2L461.1 860.7L456.1 862.7L449.8 861.2L439.8 859.5L431.1 859.5L424.8 854.5L417.4 855.7L411.1 847.7L404.9 852L398.6 846.5L394.9 850.7L389.9 853.2L382.4 848.7L373.6 848.2L367.4 844.5L357.4 842.7L347.4 839.5L338.6 835.7L329.9 839.5L322.4 837L312.4 834.5L302.4 831.2L292.4 828.2L282.4 828.2L272.4 828.7L264.9 832.7L257.4 833.2L249.9 831.2L242.4 830.7L233.7 833.2L224.9 830.7L212.5 832.7L206.2 835.7L197.5 842L185 847.7L172.5 850.7L160 851.2L147.5 851.2L138.7 852.7L131.2 849.5z" fill="#ff00ff"/><path d="M131.2 846.2L138.7 849.5L147.5 848L160 848L172.5 847.5L185 844.5L197.5 838.7L206.2 832.5L212.5 829.5L224.9 827.5L233.7 830L242.4 827.5L249.9 828L257.4 830L264.9 829.5L272.4 825.5L282.4 825L292.4 825L302.4 828L312.4 831.2L322.4 833.7L329.9 836.2L338.6 832.5L347.4 836.2L357.4 839.5L367.4 841.2L373.6 845L382.4 845.5L389.9 850L394.9 847.5L398.6 843.2L404.9 848.7L411.1 844.5L417.4 852.5L424.8 851.2L431.1 856.2L439.8 856.2L449.8 858L456.1 859.5L461.1 857.5L467.3 860L474.8 863.7L484.8 863.7L493.6 865.5L502.3 864.5L512.3 863.7L522.3 859.5L529.8 862L536 856.2L542.3 851.2L549.8 849.5L557.3 851.2L564.8 851.2L572.3 848L579.8 848.7L584 850.5L591.5 847.5L600.2 845L610.2 850.5L620.2 845L629 850L636.5 847L644 850.5L652.7 845L661.5 849.5L671.5 850L684 848L696.4 847L706.4 843.7L713.9 837L721.4 831.2L731.4 830.5L740.2 828.7L747.7 831.2L756.4 830.5L763.9 828.7L771.4 828L778.9 825L788.9 825L798.9 825L808.9 827.5L818.9 830L828.9 831.2L836.4 830.5L842.6 828.7L851.4 831.2L861.4 836.2L871.4 840.5L881.4 842L890.1 845.5L898.8 844.5L908.8 845L915.1 843.7L921.3 851.2L927.6 848L933.8 853.7L942.6 852L948.8 856.2L958.8 856.2L970.1 856.2L981.3 860L991.3 863.7L1001.3 866.2L1011.3 866.2L1021.3 864.5L1031.3 862.5L1041.3 862L1048 860.5L1058 857L1071.7 858L1080.5 847.5L1088 838.7L1095.5 838.7L1105.5 848L1113 840L1120.5 837L1128 841.2L1134.2 843.7L1141.7 841.2L1149.2 846.2L1157.9 843.7L1165.4 847L1175.4 849.5L1185.4 851.2L1197.9 852L1210.4 849.5L1222.9 841.2L1232.9 836.2L1242.9 832.5L1255.4 831.2L1265.4 830.5L1274.1 830L1280.4 825L1292.9 825L1305.4 825L1312.9 827L1322.9 827.5L1331.6 830L1344.1 825L1355.3 828L1367.8 832.5L1380.3 837L1392.8 842L1402.8 839.5L1415.3 839.5L1427.8 843.7L1440.3 846.2L1450.3 851.2L1460.3 851.2L1470.3 850L1480.3 853.7L1492.8 858L1502.8 861.2L1512 864.5L1522.9 863.7L1532.9 864.5L1542.9 862.5L1552.9 862L1562.9 856.2L1571.7 858L1580.4 848.7L1590.4 841.2L1601.6 847.5L1615.4 841.2L1625.4 845.5L1640.4 843.7L1652.9 845.5L1665.4 847.5L1676.6 848" stroke="#ff00ff" stroke-width="5.8" fill="none" stroke-linejoin="round" stroke-linecap="round"/><path d="M156.2 1150.4V1158.6M184.5 1153.6V1161.1M213.7 1154.9V1164.9M244.9 1139.9V1165.4M339.4 1102.4V1116.2M401.1 1078.7V1089.4M537.8 1067.9V1094.9M566.8 1091.2V1109.9M684 1154.9V1166.1M780.9 1134.9V1159.9M811.4 1116.9V1127.4M842.6 1104.9V1128.7M907.6 1079.9V1089.9M939.3 1067.4V1077.4M1072.5 1082.9V1099.9M1129.2 1138.6V1157.4M1187.9 1143.6V1158.6M1246.7 1158.6V1165.4M1308.4 1131.9V1141.1M1338.4 1101.9V1121.9M1402.8 1077.9V1092.4M1435.3 1079.9V1086.2M1569.2 1071.9V1094.9M1626.6 1127.4V1139.4" stroke="#00ff00" stroke-width="2.7" fill="none" stroke-opacity="0.85"/><path d="M131.2 1149.6L140 1150.9L147.5 1153.9L160 1154.6L172.5 1155.9L185 1156.4L200 1156.4L212.5 1155.9L220 1152.6L232.4 1148.9L244.9 1144.4L257.4 1138.4L269.9 1132.6L282.4 1126.4L294.9 1120.2L307.4 1115.2L319.9 1107.7L332.4 1101.4L344.9 1095.2L357.4 1088.9L369.9 1083.9L382.4 1080.2L394.9 1076.9L407.4 1073.9L419.9 1072.2L432.3 1071.4L444.8 1070.2L457.3 1069.7L469.8 1070.2L482.3 1071.9L494.8 1073.9L507.3 1077.2L519.8 1081.9L532.3 1086.4L544.8 1093.4L557.3 1100.2L569.8 1106.4L584 1115.2L596.5 1123.9L609 1130.1L621.5 1138.4L634 1143.9L646.5 1148.9L659 1152.6L671.5 1153.9L684 1155.1L696.4 1155.9L708.9 1155.9L721.4 1155.9L733.9 1153.9L746.4 1150.1L758.9 1145.1L771.4 1138.9L783.9 1133.4L796.4 1126.4L808.9 1120.2L821.4 1113.9L833.9 1107.7L846.4 1101.4L858.9 1095.2L871.4 1090.2L883.9 1085.2L896.3 1080.2L908.8 1077.7L921.3 1073.9L933.8 1071.9L946.3 1070.7L958.8 1069.7L971.3 1069.7L983.8 1069.7L996.3 1070.7L1008.8 1073.4L1021.3 1076.4L1033.8 1080.2L1048 1086.4L1060.5 1091.4L1073 1097.7L1085.5 1108.9L1098 1117.7L1105.5 1119.4L1115.5 1128.9L1128 1135.1L1140.5 1141.4L1152.9 1146.4L1165.4 1151.4L1177.9 1154.4L1190.4 1155.9L1205.4 1155.9L1222.9 1155.9L1237.9 1155.9L1247.9 1156.4L1260.4 1152.6L1272.9 1148.4L1285.4 1143.4L1297.9 1138.4L1310.4 1132.6L1322.9 1123.9L1335.4 1118.4L1347.9 1111.4L1360.3 1104.4L1372.8 1098.9L1385.3 1093.4L1397.8 1088.4L1410.3 1083.4L1422.8 1078.9L1435.3 1077.7L1447.8 1074.4L1462.8 1072.7L1477.8 1071.9L1492.8 1071.9L1512 1071.9L1515.4 1071.9L1530.4 1075.2L1545.4 1080.2L1560.4 1086.4L1569.2 1090.2L1582.9 1098.9L1597.9 1107.7L1612.9 1117.7L1625.4 1125.2L1640.4 1132.6L1655.4 1140.1L1667.9 1146.4L1676.6 1150.1L1676.6 1157.1L1667.9 1153.4L1655.4 1147.1L1640.4 1139.6L1625.4 1132.2L1612.9 1124.7L1597.9 1114.7L1582.9 1105.9L1569.2 1097.2L1560.4 1093.4L1545.4 1087.2L1530.4 1082.2L1515.4 1078.9L1512 1078.9L1492.8 1078.9L1477.8 1078.9L1462.8 1079.7L1447.8 1081.4L1435.3 1084.7L1422.8 1085.9L1410.3 1090.4L1397.8 1095.4L1385.3 1100.4L1372.8 1105.9L1360.3 1111.4L1347.9 1118.4L1335.4 1125.4L1322.9 1130.9L1310.4 1139.6L1297.9 1145.4L1285.4 1150.4L1272.9 1155.4L1260.4 1159.6L1247.9 1163.4L1237.9 1162.9L1222.9 1162.9L1205.4 1162.9L1190.4 1162.9L1177.9 1161.4L1165.4 1158.4L1152.9 1153.4L1140.5 1148.4L1128 1142.1L1115.5 1135.9L1105.5 1126.4L1098 1124.7L1085.5 1115.9L1073 1104.7L1060.5 1098.4L1048 1093.4L1033.8 1087.2L1021.3 1083.4L1008.8 1080.4L996.3 1077.7L983.8 1076.7L971.3 1076.7L958.8 1076.7L946.3 1077.7L933.8 1078.9L921.3 1080.9L908.8 1084.7L896.3 1087.2L883.9 1092.2L871.4 1097.2L858.9 1102.2L846.4 1108.4L833.9 1114.7L821.4 1120.9L808.9 1127.2L796.4 1133.4L783.9 1140.4L771.4 1145.9L758.9 1152.1L746.4 1157.1L733.9 1160.9L721.4 1162.9L708.9 1162.9L696.4 1162.9L684 1162.1L671.5 1160.9L659 1159.6L646.5 1155.9L634 1150.9L621.5 1145.4L609 1137.1L596.5 1130.9L584 1122.2L569.8 1113.4L557.3 1107.2L544.8 1100.4L532.3 1093.4L519.8 1088.9L507.3 1084.2L494.8 1080.9L482.3 1078.9L469.8 1077.2L457.3 1076.7L444.8 1077.2L432.3 1078.4L419.9 1079.2L407.4 1080.9L394.9 1083.9L382.4 1087.2L369.9 1090.9L357.4 1095.9L344.9 1102.2L332.4 1108.4L319.9 1114.7L307.4 1122.2L294.9 1127.2L282.4 1133.4L269.9 1139.6L257.4 1145.4L244.9 1151.4L232.4 1155.9L220 1159.6L212.5 1162.9L200 1163.4L185 1163.4L172.5 1162.9L160 1161.6L147.5 1160.9L140 1157.9L131.2 1156.6z" fill="#00ff00"/><path d="M131.2 1153.1L140 1154.4L147.5 1157.4L160 1158.1L172.5 1159.4L185 1159.9L200 1159.9L212.5 1159.4L220 1156.1L232.4 1152.4L244.9 1147.9L257.4 1141.9L269.9 1136.1L282.4 1129.9L294.9 1123.7L307.4 1118.7L319.9 1111.2L332.4 1104.9L344.9 1098.7L357.4 1092.4L369.9 1087.4L382.4 1083.7L394.9 1080.4L407.4 1077.4L419.9 1075.7L432.3 1074.9L444.8 1073.7L457.3 1073.2L469.8 1073.7L482.3 1075.4L494.8 1077.4L507.3 1080.7L519.8 1085.4L532.3 1089.9L544.8 1096.9L557.3 1103.7L569.8 1109.9L584 1118.7L596.5 1127.4L609 1133.6L621.5 1141.9L634 1147.4L646.5 1152.4L659 1156.1L671.5 1157.4L684 1158.6L696.4 1159.4L708.9 1159.4L721.4 1159.4L733.9 1157.4L746.4 1153.6L758.9 1148.6L771.4 1142.4L783.9 1136.9L796.4 1129.9L808.9 1123.7L821.4 1117.4L833.9 1111.2L846.4 1104.9L858.9 1098.7L871.4 1093.7L883.9 1088.7L896.3 1083.7L908.8 1081.2L921.3 1077.4L933.8 1075.4L946.3 1074.2L958.8 1073.2L971.3 1073.2L983.8 1073.2L996.3 1074.2L1008.8 1076.9L1021.3 1079.9L1033.8 1083.7L1048 1089.9L1060.5 1094.9L1073 1101.2L1085.5 1112.4L1098 1121.2L1105.5 1122.9L1115.5 1132.4L1128 1138.6L1140.5 1144.9L1152.9 1149.9L1165.4 1154.9L1177.9 1157.9L1190.4 1159.4L1205.4 1159.4L1222.9 1159.4L1237.9 1159.4L1247.9 1159.9L1260.4 1156.1L1272.9 1151.9L1285.4 1146.9L1297.9 1141.9L1310.4 1136.1L1322.9 1127.4L1335.4 1121.9L1347.9 1114.9L1360.3 1107.9L1372.8 1102.4L1385.3 1096.9L1397.8 1091.9L1410.3 1086.9L1422.8 1082.4L1435.3 1081.2L1447.8 1077.9L1462.8 1076.2L1477.8 1075.4L1492.8 1075.4L1512 1075.4L1515.4 1075.4L1530.4 1078.7L1545.4 1083.7L1560.4 1089.9L1569.2 1093.7L1582.9 1102.4L1597.9 1111.2L1612.9 1121.2L1625.4 1128.7L1640.4 1136.1L1655.4 1143.6L1667.9 1149.9L1676.6 1153.6" stroke="#00ff00" stroke-width="6.8" fill="none" stroke-linejoin="round" stroke-linecap="round"/></g>
<path fill="#000" fill-rule="evenodd" d="M126 25H1682a4 4 0 0 1 4 4V1263a4 4 0 0 1-4 4H126a4 4 0 0 1-4-4V29a4 4 0 0 1 4-4zM131 35V1259H1676.2V35z"/>
<path d="M1695.4 185.5H1748.6M1695.4 340.1H1748.6" stroke="#000" stroke-width="5.2" stroke-linecap="round" fill="none"/><path d="M1722.1 195.5V330.1" stroke="#000" stroke-width="6" fill="none"/><path d="M1722.1 187l14.2 24h-28.4zM1722.1 338.6l14.2 -24h-28.4z" fill="#000"/><text x="1734.1" y="283.9" font-size="62">6A</text>
<path d="M1695.4 340.1H1748.6M1695.4 494H1748.6" stroke="#000" stroke-width="5.2" stroke-linecap="round" fill="none"/><path d="M1722.1 350.1V484" stroke="#000" stroke-width="6" fill="none"/><path d="M1722.1 341.6l14.2 24h-28.4zM1722.1 492.5l14.2 -24h-28.4z" fill="#000"/><text x="1734.1" y="444.9" font-size="62">5A</text>
<path d="M1695.4 799.5H1748.6M1695.4 953.4H1748.6" stroke="#000" stroke-width="5.2" stroke-linecap="round" fill="none"/><path d="M1722.1 809.5V943.4" stroke="#000" stroke-width="6" fill="none"/><path d="M1722.1 801l14.2 24h-28.4zM1722.1 951.9l14.2 -24h-28.4z" fill="#000"/><text x="1734.1" y="904.6" font-size="62">5A</text>
<path d="M1695.4 1104.5H1748.6M1695.4 1260.6H1748.6" stroke="#000" stroke-width="5.2" stroke-linecap="round" fill="none"/><path d="M1722.1 1114.5V1250.6" stroke="#000" stroke-width="6" fill="none"/><path d="M1722.1 1106l14.2 24h-28.4zM1722.1 1259.1l14.2 -24h-28.4z" fill="#000"/><text x="1734.1" y="1204.9" font-size="62">50V</text>
<path d="M1526.9 1283V1333.6M1680.9 1283V1333.6" stroke="#000" stroke-width="6" stroke-linecap="round" fill="none"/>
<path d="M1545 1308H1663" stroke="#000" stroke-width="6" fill="none"/>
<path d="M1529.5 1308l24.5 -13.5v27zM1678.3 1308l-24.5 -13.5v27z" fill="#000"/>
<text x="1530.1" y="1379.9" font-size="61">2.5ms</text>
<rect x="29.9" y="300" width="92.6" height="80" rx="4" ry="4" fill="#000"/>
<path d="M88.2 326.7L100.8 340.3L88.2 353.9" stroke="#fff" stroke-width="9" stroke-linecap="round" stroke-linejoin="miter" fill="none"/><path d="M69.4 340.5H83" stroke="#fff" stroke-width="9" stroke-linecap="round" fill="none"/>
<text transform="translate(42.4 356.9) scale(1.02 1)" font-size="48" class="b" style="fill:#fff">1</text>
<path d="M102.4 479.7L115 493.3L102.4 506.9" stroke="#000" stroke-width="9" stroke-linecap="round" stroke-linejoin="miter" fill="none"/><path d="M83.6 493.5H97.2" stroke="#000" stroke-width="9" stroke-linecap="round" fill="none"/>
<text transform="translate(57 509.7) scale(1.1 1)" font-size="48" class="b">2</text>
<path d="M102.4 939.9L115 953.5L102.4 967.1" stroke="#000" stroke-width="9" stroke-linecap="round" stroke-linejoin="miter" fill="none"/><path d="M83.6 953.7H97.2" stroke="#000" stroke-width="9" stroke-linecap="round" fill="none"/>
<text transform="translate(57 970) scale(1.1 1)" font-size="48" class="b">3</text>
<path d="M102.4 1247.9L115 1261.5L102.4 1275.1" stroke="#000" stroke-width="9" stroke-linecap="round" stroke-linejoin="miter" fill="none"/><path d="M83.6 1261.7H97.2" stroke="#000" stroke-width="9" stroke-linecap="round" fill="none"/>
<text transform="translate(57 1278.7) scale(1.1 1)" font-size="48" class="b">4</text>
<path d="M1053.7 200.7L1027.9 231" stroke="#000" stroke-width="6.5" stroke-linecap="round" fill="none"/><path d="M1005.9 256.9L1015.5 217.8L1042.9 241.1z" fill="#000"/>
<path d="M1131.5 456.8L1118.7 499.4" stroke="#000" stroke-width="6.5" stroke-linecap="round" fill="none"/><path d="M1108.9 532L1102 492.3L1136.5 502.7z" fill="#000"/>
<path d="M1131 773.2L1121.4 799" stroke="#000" stroke-width="6.5" stroke-linecap="round" fill="none"/><path d="M1109.5 830.9L1105.2 790.9L1138.9 803.5z" fill="#000"/>
<path d="M1121.9 1032.5L1104.3 1070.7" stroke="#000" stroke-width="6.5" stroke-linecap="round" fill="none"/><path d="M1090.1 1101.6L1088.8 1061.4L1121.5 1076.4z" fill="#000"/>
<text class="it" style="font-variant-ligatures:none"><tspan class="th m1" font-size="78" x="992.7" y="135.2">i</tspan><tspan class="t7" font-size="49.5" x="1005.8 1030.8 1061.2 1072.5 1082.3 1097.7 1118 1135.7 1154.2" y="154.6 159.4 154.6 154.6 154.6 154.6 154.6 154.6 154.6">o_flyback</tspan></text>
<text class="it" style="font-variant-ligatures:none"><tspan class="th" font-size="56" x="1125.6" y="448.7">i</tspan><tspan class="t0" font-size="38.8" x="1140.6 1164" y="456.8 456.8">L1</tspan></text>
<text class="it" style="font-variant-ligatures:none"><tspan class="th" font-size="56" x="1124.7" y="752.8">i</tspan><tspan class="t0" font-size="38.5" x="1140.4" y="761.9">o</tspan></text>
<text class="it" style="font-variant-ligatures:none"><tspan class="t0" font-size="57.4" x="1106.5" y="1016.2">v</tspan><tspan class="t0" font-size="40.7" x="1131.4 1159.8" y="1025.8 1025.8">C1</tspan></text>
</svg></body></html>
